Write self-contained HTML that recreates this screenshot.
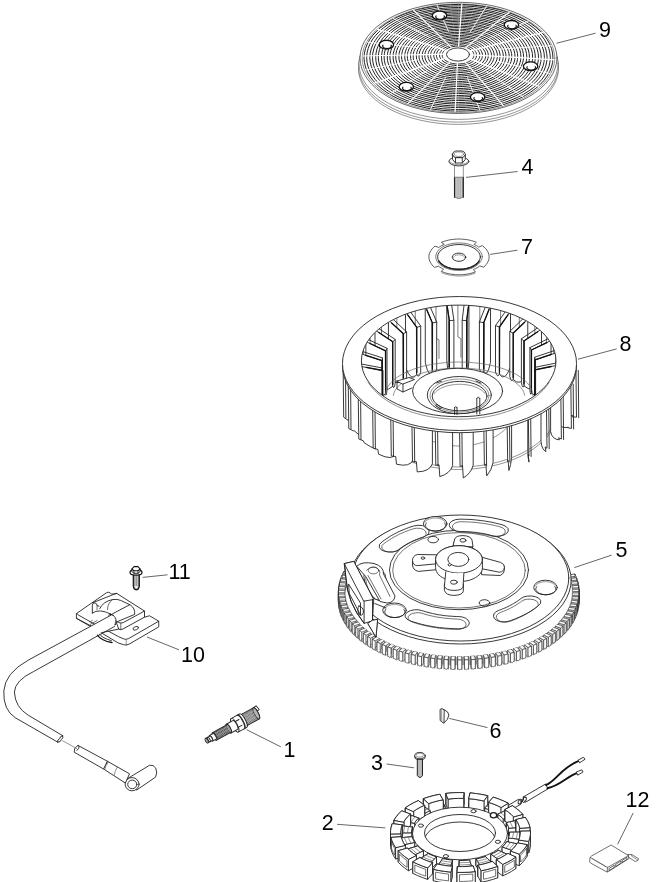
<!DOCTYPE html>
<html><head><meta charset="utf-8">
<style>
html,body{margin:0;padding:0;background:#fff;}
body{width:664px;height:882px;overflow:hidden;position:relative;font-family:"Liberation Sans",sans-serif;}
svg{position:absolute;left:0;top:0;}
.lbl{font-family:"Liberation Sans",sans-serif;font-size:21.5px;fill:#000;}
.labels{position:absolute;left:0;top:0;width:664px;height:882px;will-change:transform;}
.labels span{position:absolute;font-size:21.5px;line-height:24px;color:#000;white-space:nowrap;}
.ld{stroke:#555;stroke-width:0.9;fill:none;}
.k{stroke:#222;stroke-width:0.9;fill:none;stroke-linejoin:round;stroke-linecap:round;}
.kf{stroke:#222;stroke-width:0.9;fill:#fff;stroke-linejoin:round;stroke-linecap:round;}
.g{stroke:#666;stroke-width:0.7;fill:none;stroke-linejoin:round;stroke-linecap:round;}
.gf{stroke:#666;stroke-width:0.7;fill:#fff;stroke-linejoin:round;stroke-linecap:round;}
#p12 .k,#p12 .kf{stroke-width:0.7;stroke:#333;}
.t{stroke:#111;stroke-width:1.3;fill:none;stroke-linejoin:round;stroke-linecap:round;}
</style></head>
<body>
<svg width="664" height="882" viewBox="0 0 664 882">
<rect width="664" height="882" fill="#fff"/>
<g id="p9">
<ellipse class="gf" cx="458.5" cy="68.8" rx="100" ry="55.6"/>
<ellipse class="gf" cx="458.5" cy="66.5" rx="100" ry="55.6"/>
<ellipse class="gf" cx="458.5" cy="63.8" rx="99.5" ry="55.6"/>
<ellipse class="kf" cx="458.5" cy="57.9" rx="98.5" ry="55.6" style="stroke:#444;stroke-width:0.8"/>
<ellipse class="g" cx="458.5" cy="58.2" rx="96.3" ry="54.3"/>
<path d="M474 55L473.9 55.8L473.7 56.6L473.4 57.4L473 58.1L472.5 58.8L471.8 59.5L471.1 60.2L470.2 60.8L469.3 61.4L468.3 61.9L467.2 62.4L466 62.8L464.8 63.2L463.5 63.5L462.2 63.7L460.8 63.9L459.5 64L458.1 64L456.7 64L455.3 63.9L454 63.7L452.7 63.5L451.4 63.2L450.1 62.8L449 62.4L447.9 61.9L446.9 61.4L445.9 60.8L445.1 60.2L444.3 59.5L443.7 58.8L443.2 58.1L442.7 57.4L442.4 56.6L442.3 55.8L442.2 55L442.3 54.3L442.4 53.5L442.7 52.7L443.2 52L443.7 51.3L444.3 50.6L445.1 49.9L445.9 49.3L446.9 48.7L447.9 48.2L449 47.7L450.1 47.3L451.4 46.9L452.7 46.6L454 46.4L455.3 46.2L456.7 46.1L458.1 46.1L459.5 46.1L460.8 46.2L462.2 46.4L463.5 46.6L464.8 46.9L466 47.3L467.2 47.7L468.3 48.2L469.3 48.7L470.2 49.3L471.1 49.9L471.8 50.6L472.5 51.3L473 52L473.4 52.7L473.7 53.5L473.9 54.3L474 55ZM476.6 55.1L476.6 56.1L476.3 57L476 57.8L475.5 58.7L474.9 59.6L474.1 60.4L473.3 61.1L472.3 61.9L471.2 62.5L470 63.2L468.7 63.7L467.4 64.2L465.9 64.6L464.4 65L462.9 65.2L461.3 65.4L459.7 65.6L458.1 65.6L456.5 65.6L454.9 65.4L453.3 65.2L451.8 65L450.3 64.6L448.8 64.2L447.5 63.7L446.2 63.2L445 62.5L443.9 61.9L442.9 61.1L442 60.4L441.3 59.6L440.7 58.7L440.2 57.8L439.8 57L439.6 56.1L439.6 55.1L439.6 54.2L439.8 53.3L440.2 52.4L440.7 51.6L441.3 50.7L442 49.9L442.9 49.1L443.9 48.4L445 47.7L446.2 47.1L447.5 46.6L448.8 46.1L450.3 45.7L451.8 45.3L453.3 45L454.9 44.8L456.5 44.7L458.1 44.7L459.7 44.7L461.3 44.8L462.9 45L464.4 45.3L465.9 45.7L467.4 46.1L468.7 46.6L470 47.1L471.2 47.7L472.3 48.4L473.3 49.1L474.1 49.9L474.9 50.7L475.5 51.6L476 52.4L476.3 53.3L476.6 54.2L476.6 55.1ZM479.8 55.2L479.7 56.3L479.5 57.4L479.1 58.4L478.5 59.4L477.8 60.4L476.9 61.4L475.9 62.3L474.7 63.1L473.5 63.9L472.1 64.6L470.6 65.3L469 65.9L467.3 66.4L465.5 66.8L463.7 67.1L461.9 67.3L460 67.5L458.1 67.5L456.2 67.5L454.3 67.3L452.5 67.1L450.7 66.8L448.9 66.4L447.3 65.9L445.7 65.3L444.2 64.6L442.8 63.9L441.5 63.1L440.3 62.3L439.3 61.4L438.4 60.4L437.7 59.4L437.1 58.4L436.7 57.4L436.5 56.3L436.4 55.2L436.5 54.2L436.7 53.1L437.1 52.1L437.7 51.1L438.4 50.1L439.3 49.1L440.3 48.2L441.5 47.4L442.8 46.6L444.2 45.9L445.7 45.2L447.3 44.6L448.9 44.1L450.7 43.7L452.5 43.4L454.3 43.2L456.2 43L458.1 43L460 43L461.9 43.2L463.7 43.4L465.5 43.7L467.3 44.1L469 44.6L470.6 45.2L472.1 45.9L473.5 46.6L474.7 47.4L475.9 48.2L476.9 49.1L477.8 50.1L478.5 51.1L479.1 52.1L479.5 53.1L479.7 54.2L479.8 55.2ZM482.5 55.3L482.4 56.5L482.1 57.7L481.7 58.9L481 60L480.2 61.2L479.2 62.2L478.1 63.2L476.8 64.2L475.4 65.1L473.8 65.9L472.1 66.6L470.3 67.3L468.4 67.8L466.5 68.3L464.4 68.6L462.4 68.9L460.2 69L458.1 69.1L456 69L453.9 68.9L451.8 68.6L449.8 68.3L447.8 67.8L445.9 67.3L444.1 66.6L442.5 65.9L440.9 65.1L439.5 64.2L438.2 63.2L437 62.2L436 61.2L435.2 60L434.6 58.9L434.1 57.7L433.8 56.5L433.8 55.3L433.8 54.1L434.1 53L434.6 51.8L435.2 50.6L436 49.5L437 48.5L438.2 47.5L439.5 46.5L440.9 45.6L442.5 44.8L444.1 44.1L445.9 43.4L447.8 42.9L449.8 42.4L451.8 42.1L453.9 41.8L456 41.6L458.1 41.6L460.2 41.6L462.4 41.8L464.4 42.1L466.5 42.4L468.4 42.9L470.3 43.4L472.1 44.1L473.8 44.8L475.4 45.6L476.8 46.5L478.1 47.5L479.2 48.5L480.2 49.5L481 50.6L481.7 51.8L482.1 53L482.4 54.1L482.5 55.3ZM485.7 55.5L485.6 56.8L485.3 58.2L484.8 59.5L484 60.8L483.1 62L482 63.2L480.7 64.4L479.2 65.4L477.6 66.4L475.8 67.4L473.9 68.2L471.9 68.9L469.8 69.5L467.6 70.1L465.3 70.5L462.9 70.8L460.5 70.9L458.1 71L455.7 70.9L453.4 70.8L451 70.5L448.7 70.1L446.5 69.5L444.4 68.9L442.3 68.2L440.4 67.4L438.7 66.4L437 65.4L435.6 64.4L434.3 63.2L433.2 62L432.2 60.8L431.5 59.5L431 58.2L430.7 56.8L430.6 55.5L430.7 54.1L431 52.8L431.5 51.4L432.2 50.1L433.2 48.9L434.3 47.7L435.6 46.5L437 45.5L438.7 44.5L440.4 43.5L442.3 42.7L444.4 42L446.5 41.4L448.7 40.8L451 40.4L453.4 40.1L455.7 40L458.1 39.9L460.5 40L462.9 40.1L465.3 40.4L467.6 40.8L469.8 41.4L471.9 42L473.9 42.7L475.8 43.5L477.6 44.5L479.2 45.5L480.7 46.5L482 47.7L483.1 48.9L484 50.1L484.8 51.4L485.3 52.8L485.6 54.1L485.7 55.5ZM488.4 55.5L488.2 57L487.9 58.5L487.3 60L486.5 61.4L485.5 62.7L484.3 64.1L482.9 65.3L481.3 66.5L479.5 67.6L477.6 68.6L475.5 69.5L473.3 70.3L470.9 71L468.5 71.6L466 72L463.4 72.3L460.8 72.5L458.2 72.6L455.5 72.5L452.9 72.3L450.3 72L447.8 71.6L445.4 71L443 70.3L440.8 69.5L438.7 68.6L436.8 67.6L435 66.5L433.4 65.3L432 64.1L430.8 62.7L429.8 61.4L429 60L428.4 58.5L428.1 57L427.9 55.5L428.1 54.1L428.4 52.6L429 51.1L429.8 49.7L430.8 48.3L432 47L433.4 45.8L435 44.6L436.8 43.5L438.7 42.5L440.8 41.6L443 40.8L445.4 40.1L447.8 39.5L450.3 39.1L452.9 38.7L455.5 38.6L458.2 38.5L460.8 38.6L463.4 38.7L466 39.1L468.5 39.5L470.9 40.1L473.3 40.8L475.5 41.6L477.6 42.5L479.5 43.5L481.3 44.6L482.9 45.8L484.3 47L485.5 48.3L486.5 49.7L487.3 51.1L487.9 52.6L488.2 54.1L488.4 55.5ZM491.6 55.7L491.4 57.3L491.1 58.9L490.4 60.5L489.5 62.1L488.4 63.6L487.1 65.1L485.5 66.5L483.7 67.8L481.8 69L479.6 70.1L477.3 71.1L474.9 72L472.3 72.7L469.6 73.4L466.8 73.9L464 74.2L461.1 74.4L458.2 74.5L455.3 74.4L452.4 74.2L449.5 73.9L446.7 73.4L444.1 72.7L441.5 72L439 71.1L436.7 70.1L434.6 69L432.6 67.8L430.8 66.5L429.3 65.1L427.9 63.6L426.8 62.1L425.9 60.5L425.3 58.9L424.9 57.3L424.8 55.7L424.9 54L425.3 52.4L425.9 50.8L426.8 49.2L427.9 47.7L429.3 46.2L430.8 44.8L432.6 43.5L434.6 42.3L436.7 41.2L439 40.2L441.5 39.3L444.1 38.6L446.7 37.9L449.5 37.4L452.4 37.1L455.3 36.9L458.2 36.8L461.1 36.9L464 37.1L466.8 37.4L469.6 37.9L472.3 38.6L474.9 39.3L477.3 40.2L479.6 41.2L481.8 42.3L483.7 43.5L485.5 44.8L487.1 46.2L488.4 47.7L489.5 49.2L490.4 50.8L491.1 52.4L491.4 54L491.6 55.7ZM494.2 55.7L494.1 57.5L493.7 59.3L493 61L492.1 62.7L490.9 64.3L489.4 65.9L487.7 67.4L485.8 68.8L483.7 70.1L481.4 71.3L478.9 72.4L476.2 73.4L473.4 74.2L470.5 74.9L467.5 75.4L464.4 75.8L461.3 76L458.2 76.1L455 76L451.9 75.8L448.9 75.4L445.9 74.9L442.9 74.2L440.2 73.4L437.5 72.4L435 71.3L432.7 70.1L430.6 68.8L428.7 67.4L427 65.9L425.5 64.3L424.3 62.7L423.4 61L422.7 59.3L422.3 57.5L422.1 55.7L422.3 54L422.7 52.2L423.4 50.5L424.3 48.8L425.5 47.1L427 45.6L428.7 44.1L430.6 42.7L432.7 41.4L435 40.2L437.5 39.1L440.2 38.1L442.9 37.3L445.9 36.6L448.9 36.1L451.9 35.7L455 35.5L458.2 35.4L461.3 35.5L464.4 35.7L467.5 36.1L470.5 36.6L473.4 37.3L476.2 38.1L478.9 39.1L481.4 40.2L483.7 41.4L485.8 42.7L487.7 44.1L489.4 45.6L490.9 47.1L492.1 48.8L493 50.5L493.7 52.2L494.1 54L494.2 55.7ZM497.4 55.9L497.3 57.8L496.8 59.7L496.1 61.6L495.1 63.4L493.8 65.2L492.2 66.9L490.3 68.6L488.3 70.1L485.9 71.5L483.4 72.8L480.7 74L477.8 75L474.8 75.9L471.6 76.7L468.4 77.2L465 77.7L461.6 77.9L458.2 78L454.8 77.9L451.4 77.7L448 77.2L444.8 76.7L441.6 75.9L438.6 75L435.7 74L433 72.8L430.5 71.5L428.1 70.1L426.1 68.6L424.2 66.9L422.6 65.2L421.3 63.4L420.3 61.6L419.6 59.7L419.1 57.8L419 55.9L419.1 53.9L419.6 52L420.3 50.1L421.3 48.3L422.6 46.5L424.2 44.8L426.1 43.2L428.1 41.6L430.5 40.2L433 38.9L435.7 37.7L438.6 36.7L441.6 35.8L444.8 35L448 34.5L451.4 34L454.8 33.8L458.2 33.7L461.6 33.8L465 34L468.4 34.5L471.6 35L474.8 35.8L477.8 36.7L480.7 37.7L483.4 38.9L485.9 40.2L488.3 41.6L490.3 43.2L492.2 44.8L493.8 46.5L495.1 48.3L496.1 50.1L496.8 52L497.3 53.9L497.4 55.9ZM500.1 55.9L499.9 58L499.5 60.1L498.7 62.1L497.6 64L496.2 65.9L494.5 67.8L492.5 69.5L490.3 71.1L487.8 72.7L485.1 74.1L482.2 75.3L479.2 76.4L475.9 77.4L472.5 78.2L469.1 78.8L465.5 79.2L461.9 79.5L458.2 79.6L454.6 79.5L450.9 79.2L447.4 78.8L443.9 78.2L440.5 77.4L437.3 76.4L434.2 75.3L431.3 74.1L428.6 72.7L426.1 71.1L423.9 69.5L421.9 67.8L420.2 65.9L418.8 64L417.7 62.1L417 60.1L416.5 58L416.3 55.9L416.5 53.9L417 51.8L417.7 49.8L418.8 47.9L420.2 46L421.9 44.1L423.9 42.4L426.1 40.7L428.6 39.2L431.3 37.8L434.2 36.6L437.3 35.5L440.5 34.5L443.9 33.7L447.4 33.1L450.9 32.7L454.6 32.4L458.2 32.3L461.9 32.4L465.5 32.7L469.1 33.1L472.5 33.7L475.9 34.5L479.2 35.5L482.2 36.6L485.1 37.8L487.8 39.2L490.3 40.7L492.5 42.4L494.5 44.1L496.2 46L497.6 47.9L498.7 49.8L499.5 51.8L499.9 53.9L500.1 55.9ZM503.3 56.1L503.1 58.3L502.6 60.5L501.8 62.6L500.6 64.8L499.1 66.8L497.3 68.8L495.1 70.6L492.8 72.4L490.1 74L487.2 75.5L484.1 76.9L480.8 78.1L477.3 79.1L473.6 80L469.9 80.6L466.1 81.1L462.2 81.4L458.2 81.5L454.3 81.4L450.4 81.1L446.6 80.6L442.8 80L439.2 79.1L435.7 78.1L432.4 76.9L429.3 75.5L426.4 74L423.7 72.4L421.3 70.6L419.2 68.8L417.4 66.8L415.9 64.8L414.7 62.6L413.8 60.5L413.3 58.3L413.2 56.1L413.3 53.8L413.8 51.6L414.7 49.5L415.9 47.4L417.4 45.3L419.2 43.3L421.3 41.5L423.7 39.7L426.4 38.1L429.3 36.6L432.4 35.2L435.7 34L439.2 33L442.8 32.1L446.6 31.5L450.4 31L454.3 30.7L458.2 30.6L462.2 30.7L466.1 31L469.9 31.5L473.6 32.1L477.3 33L480.8 34L484.1 35.2L487.2 36.6L490.1 38.1L492.8 39.7L495.1 41.5L497.3 43.3L499.1 45.3L500.6 47.4L501.8 49.5L502.6 51.6L503.1 53.8L503.3 56.1ZM506 56.1L505.8 58.5L505.2 60.8L504.3 63.1L503.1 65.4L501.5 67.5L499.6 69.6L497.3 71.6L494.8 73.5L492 75.2L488.9 76.8L485.6 78.2L482.1 79.5L478.4 80.6L474.6 81.5L470.6 82.2L466.5 82.7L462.4 83L458.2 83.1L454.1 83L450 82.7L445.9 82.2L441.9 81.5L438.1 80.6L434.4 79.5L430.9 78.2L427.6 76.8L424.5 75.2L421.7 73.5L419.1 71.6L416.9 69.6L415 67.5L413.4 65.4L412.1 63.1L411.2 60.8L410.7 58.5L410.5 56.1L410.7 53.8L411.2 51.5L412.1 49.2L413.4 46.9L415 44.8L416.9 42.7L419.1 40.7L421.7 38.8L424.5 37.1L427.6 35.5L430.9 34.1L434.4 32.8L438.1 31.7L441.9 30.8L445.9 30.1L450 29.6L454.1 29.3L458.2 29.2L462.4 29.3L466.5 29.6L470.6 30.1L474.6 30.8L478.4 31.7L482.1 32.8L485.6 34.1L488.9 35.5L492 37.1L494.8 38.8L497.3 40.7L499.6 42.7L501.5 44.8L503.1 46.9L504.3 49.2L505.2 51.5L505.8 53.8L506 56.1ZM509.2 56.3L509 58.8L508.4 61.2L507.4 63.7L506.1 66.1L504.4 68.4L502.3 70.6L500 72.7L497.3 74.7L494.3 76.6L491 78.3L487.5 79.8L483.7 81.1L479.8 82.3L475.7 83.3L471.4 84L467.1 84.6L462.7 84.9L458.3 85L453.8 84.9L449.4 84.6L445.1 84L440.8 83.3L436.7 82.3L432.8 81.1L429.1 79.8L425.5 78.3L422.3 76.6L419.3 74.7L416.6 72.7L414.2 70.6L412.1 68.4L410.4 66.1L409.1 63.7L408.1 61.2L407.5 58.8L407.3 56.3L407.5 53.8L408.1 51.3L409.1 48.8L410.4 46.4L412.1 44.1L414.2 41.9L416.6 39.8L419.3 37.8L422.3 35.9L425.5 34.2L429.1 32.7L432.8 31.4L436.7 30.2L440.8 29.3L445.1 28.5L449.4 28L453.8 27.6L458.3 27.5L462.7 27.6L467.1 28L471.4 28.5L475.7 29.3L479.8 30.2L483.7 31.4L487.5 32.7L491 34.2L494.3 35.9L497.3 37.8L500 39.8L502.3 41.9L504.4 44.1L506.1 46.4L507.4 48.8L508.4 51.3L509 53.8L509.2 56.3ZM511.8 56.3L511.6 59L511 61.6L510 64.2L508.6 66.7L506.8 69.1L504.7 71.5L502.2 73.7L499.3 75.8L496.2 77.7L492.7 79.5L489 81.1L485.1 82.5L480.9 83.8L476.6 84.8L472.1 85.6L467.6 86.1L462.9 86.5L458.3 86.6L453.6 86.5L449 86.1L444.4 85.6L439.9 84.8L435.6 83.8L431.5 82.5L427.5 81.1L423.8 79.5L420.4 77.7L417.2 75.8L414.4 73.7L411.9 71.5L409.7 69.1L407.9 66.7L406.5 64.2L405.5 61.6L404.9 59L404.7 56.3L404.9 53.7L405.5 51.1L406.5 48.5L407.9 46L409.7 43.6L411.9 41.2L414.4 39L417.2 36.9L420.4 35L423.8 33.2L427.5 31.6L431.5 30.2L435.6 28.9L439.9 27.9L444.4 27.1L449 26.6L453.6 26.2L458.3 26.1L462.9 26.2L467.6 26.6L472.1 27.1L476.6 27.9L480.9 28.9L485.1 30.2L489 31.6L492.7 33.2L496.2 35L499.3 36.9L502.2 39L504.7 41.2L506.8 43.6L508.6 46L510 48.5L511 51.1L511.6 53.7L511.8 56.3ZM515 56.5L514.8 59.3L514.2 62L513.1 64.7L511.6 67.4L509.7 70L507.4 72.5L504.8 74.8L501.8 77L498.4 79.1L494.8 81L490.8 82.7L486.7 84.2L482.3 85.5L477.7 86.6L473 87.4L468.1 88L463.2 88.4L458.3 88.5L453.3 88.4L448.4 88L443.6 87.4L438.9 86.6L434.3 85.5L429.9 84.2L425.7 82.7L421.8 81L418.2 79.1L414.8 77L411.8 74.8L409.1 72.5L406.9 70L405 67.4L403.5 64.7L402.4 62L401.8 59.3L401.5 56.5L401.8 53.7L402.4 50.9L403.5 48.2L405 45.5L406.9 42.9L409.1 40.4L411.8 38.1L414.8 35.9L418.2 33.8L421.8 31.9L425.7 30.2L429.9 28.7L434.3 27.4L438.9 26.4L443.6 25.5L448.4 24.9L453.3 24.5L458.3 24.4L463.2 24.5L468.1 24.9L473 25.5L477.7 26.4L482.3 27.4L486.7 28.7L490.8 30.2L494.8 31.9L498.4 33.8L501.8 35.9L504.8 38.1L507.4 40.4L509.7 42.9L511.6 45.5L513.1 48.2L514.2 50.9L514.8 53.7L515 56.5ZM517.7 56.6L517.5 59.5L516.8 62.4L515.7 65.2L514.1 68L512.1 70.7L509.8 73.3L507 75.8L503.8 78.1L500.3 80.3L496.5 82.2L492.4 84L488 85.6L483.4 86.9L478.6 88.1L473.7 88.9L468.6 89.6L463.5 90L458.3 90.1L453.1 90L448 89.6L442.9 88.9L438 88.1L433.2 86.9L428.6 85.6L424.2 84L420.1 82.2L416.3 80.3L412.8 78.1L409.6 75.8L406.9 73.3L404.5 70.7L402.5 68L400.9 65.2L399.8 62.4L399.1 59.5L398.9 56.6L399.1 53.6L399.8 50.7L400.9 47.9L402.5 45.1L404.5 42.4L406.9 39.8L409.6 37.3L412.8 35L416.3 32.8L420.1 30.9L424.2 29.1L428.6 27.5L433.2 26.2L438 25L442.9 24.2L448 23.5L453.1 23.1L458.3 23L463.5 23.1L468.6 23.5L473.7 24.2L478.6 25L483.4 26.2L488 27.5L492.4 29.1L496.5 30.9L500.3 32.8L503.8 35L507 37.3L509.8 39.8L512.1 42.4L514.1 45.1L515.7 47.9L516.8 50.7L517.5 53.6L517.7 56.6ZM520.9 56.7L520.7 59.7L520 62.8L518.8 65.8L517.1 68.7L515 71.6L512.5 74.3L509.6 76.9L506.3 79.4L502.6 81.6L498.5 83.7L494.2 85.6L489.6 87.3L484.8 88.7L479.7 89.9L474.5 90.8L469.2 91.5L463.8 91.9L458.3 92L452.9 91.9L447.4 91.5L442.1 90.8L436.9 89.9L431.9 88.7L427 87.3L422.4 85.6L418.1 83.7L414.1 81.6L410.4 79.4L407 76.9L404.1 74.3L401.6 71.6L399.5 68.7L397.9 65.8L396.7 62.8L396 59.7L395.7 56.7L396 53.6L396.7 50.5L397.9 47.5L399.5 44.6L401.6 41.7L404.1 39L407 36.4L410.4 34L414.1 31.7L418.1 29.6L422.4 27.7L427 26.1L431.9 24.6L436.9 23.5L442.1 22.5L447.4 21.9L452.9 21.5L458.3 21.3L463.8 21.5L469.2 21.9L474.5 22.5L479.7 23.5L484.8 24.6L489.6 26.1L494.2 27.7L498.5 29.6L502.6 31.7L506.3 34L509.6 36.4L512.5 39L515 41.7L517.1 44.6L518.8 47.5L520 50.5L520.7 53.6L520.9 56.7ZM523.6 56.8L523.3 60L522.6 63.1L521.4 66.3L519.6 69.3L517.5 72.3L514.8 75.2L511.8 77.9L508.3 80.4L504.5 82.8L500.3 85L495.8 86.9L491 88.6L485.9 90.1L480.6 91.4L475.2 92.3L469.7 93L464 93.4L458.3 93.6L452.6 93.4L447 93L441.4 92.3L436 91.4L430.8 90.1L425.7 88.6L420.9 86.9L416.4 85L412.2 82.8L408.3 80.4L404.9 77.9L401.8 75.2L399.2 72.3L397 69.3L395.3 66.3L394.1 63.1L393.3 60L393.1 56.8L393.3 53.5L394.1 50.4L395.3 47.2L397 44.2L399.2 41.2L401.8 38.3L404.9 35.6L408.3 33.1L412.2 30.7L416.4 28.5L420.9 26.6L425.7 24.9L430.8 23.4L436 22.1L441.4 21.2L447 20.5L452.6 20.1L458.3 19.9L464 20.1L469.7 20.5L475.2 21.2L480.6 22.1L485.9 23.4L491 24.9L495.8 26.6L500.3 28.5L504.5 30.7L508.3 33.1L511.8 35.6L514.8 38.3L517.5 41.2L519.6 44.2L521.4 47.2L522.6 50.4L523.3 53.5L523.6 56.8ZM526.8 56.9L526.5 60.2L525.7 63.6L524.4 66.9L522.6 70.1L520.4 73.2L517.6 76.2L514.4 79L510.8 81.7L506.7 84.2L502.3 86.5L497.6 88.5L492.6 90.3L487.3 91.9L481.8 93.2L476.1 94.2L470.2 94.9L464.3 95.3L458.3 95.5L452.4 95.3L446.5 94.9L440.6 94.2L434.9 93.2L429.4 91.9L424.1 90.3L419.1 88.5L414.4 86.5L410 84.2L405.9 81.7L402.3 79L399.1 76.2L396.3 73.2L394 70.1L392.2 66.9L391 63.6L390.2 60.2L389.9 56.9L390.2 53.5L391 50.2L392.2 46.9L394 43.7L396.3 40.5L399.1 37.5L402.3 34.7L405.9 32L410 29.5L414.4 27.3L419.1 25.2L424.1 23.4L429.4 21.9L434.9 20.6L440.6 19.6L446.5 18.8L452.4 18.4L458.3 18.2L464.3 18.4L470.2 18.8L476.1 19.6L481.8 20.6L487.3 21.9L492.6 23.4L497.6 25.2L502.3 27.3L506.7 29.5L510.8 32L514.4 34.7L517.6 37.5L520.4 40.5L522.6 43.7L524.4 46.9L525.7 50.2L526.5 53.5L526.8 56.9ZM529.4 57L529.2 60.5L528.4 63.9L527 67.3L525.2 70.7L522.8 73.9L519.9 77L516.6 80L512.8 82.7L508.6 85.3L504.1 87.7L499.1 89.8L493.9 91.7L488.4 93.3L482.7 94.7L476.8 95.7L470.7 96.5L464.6 96.9L458.4 97.1L452.2 96.9L446 96.5L440 95.7L434 94.7L428.3 93.3L422.8 91.7L417.6 89.8L412.7 87.7L408.1 85.3L403.9 82.7L400.1 80L396.8 77L393.9 73.9L391.6 70.7L389.7 67.3L388.4 63.9L387.5 60.5L387.3 57L387.5 53.5L388.4 50L389.7 46.6L391.6 43.2L393.9 40L396.8 36.9L400.1 33.9L403.9 31.2L408.1 28.6L412.7 26.2L417.6 24.1L422.8 22.2L428.3 20.6L434 19.2L440 18.2L446 17.4L452.2 17L458.4 16.8L464.6 17L470.7 17.4L476.8 18.2L482.7 19.2L488.4 20.6L493.9 22.2L499.1 24.1L504.1 26.2L508.6 28.6L512.8 31.2L516.6 33.9L519.9 36.9L522.8 40L525.2 43.2L527 46.6L528.4 50L529.2 53.5L529.4 57ZM532.6 57.1L532.4 60.7L531.5 64.3L530.1 67.9L528.2 71.4L525.7 74.8L522.7 78L519.2 81.1L515.3 84L510.9 86.7L506.1 89.2L501 91.4L495.5 93.4L489.8 95.1L483.8 96.5L477.6 97.6L471.3 98.3L464.8 98.8L458.4 99L451.9 98.8L445.5 98.3L439.2 97.6L433 96.5L427 95.1L421.2 93.4L415.8 91.4L410.6 89.2L405.9 86.7L401.5 84L397.5 81.1L394.1 78L391.1 74.8L388.6 71.4L386.6 67.9L385.2 64.3L384.4 60.7L384.1 57.1L384.4 53.4L385.2 49.8L386.6 46.2L388.6 42.7L391.1 39.3L394.1 36.1L397.5 33L401.5 30.1L405.9 27.4L410.6 24.9L415.8 22.7L421.2 20.8L427 19.1L433 17.7L439.2 16.6L445.5 15.8L451.9 15.3L458.4 15.1L464.8 15.3L471.3 15.8L477.6 16.6L483.8 17.7L489.8 19.1L495.5 20.8L501 22.7L506.1 24.9L510.9 27.4L515.3 30.1L519.2 33L522.7 36.1L525.7 39.3L528.2 42.7L530.1 46.2L531.5 49.8L532.4 53.4L532.6 57.1ZM535.3 57.2L535 60.9L534.2 64.7L532.7 68.4L530.7 72L528.1 75.5L525 78.9L521.4 82.1L517.3 85.1L512.8 87.9L507.8 90.4L502.5 92.7L496.9 94.8L490.9 96.5L484.7 98L478.3 99.1L471.7 99.9L465.1 100.4L458.4 100.6L451.7 100.4L445 99.9L438.5 99.1L432.1 98L425.9 96.5L419.9 94.8L414.3 92.7L408.9 90.4L404 87.9L399.5 85.1L395.4 82.1L391.8 78.9L388.7 75.5L386.1 72L384.1 68.4L382.6 64.7L381.8 60.9L381.5 57.2L381.8 53.4L382.6 49.6L384.1 45.9L386.1 42.3L388.7 38.8L391.8 35.4L395.4 32.2L399.5 29.2L404 26.5L408.9 23.9L414.3 21.6L419.9 19.5L425.9 17.8L432.1 16.4L438.5 15.2L445 14.4L451.7 13.9L458.4 13.7L465.1 13.9L471.7 14.4L478.3 15.2L484.7 16.4L490.9 17.8L496.9 19.5L502.5 21.6L507.8 23.9L512.8 26.5L517.3 29.2L521.4 32.2L525 35.4L528.1 38.8L530.7 42.3L532.7 45.9L534.2 49.6L535 53.4L535.3 57.2ZM538.5 57.3L538.2 61.2L537.3 65.1L535.8 69L533.7 72.7L531 76.4L527.8 79.9L524 83.2L519.8 86.3L515.1 89.2L509.9 91.9L504.4 94.3L498.5 96.4L492.3 98.2L485.8 99.8L479.1 100.9L472.3 101.8L465.4 102.3L458.4 102.5L451.4 102.3L444.5 101.8L437.7 100.9L431 99.8L424.6 98.2L418.4 96.4L412.5 94.3L406.9 91.9L401.8 89.2L397 86.3L392.8 83.2L389 79.9L385.8 76.4L383.1 72.7L381 69L379.5 65.1L378.6 61.2L378.3 57.3L378.6 53.3L379.5 49.4L381 45.6L383.1 41.8L385.8 38.2L389 34.7L392.8 31.3L397 28.2L401.8 25.3L406.9 22.6L412.5 20.2L418.4 18.1L424.6 16.3L431 14.8L437.7 13.6L444.5 12.7L451.4 12.2L458.4 12L465.4 12.2L472.3 12.7L479.1 13.6L485.8 14.8L492.3 16.3L498.5 18.1L504.4 20.2L509.9 22.6L515.1 25.3L519.8 28.2L524 31.3L527.8 34.7L531 38.2L533.7 41.8L535.8 45.6L537.3 49.4L538.2 53.3L538.5 57.3ZM541.2 57.4L540.9 61.4L539.9 65.5L538.4 69.4L536.2 73.3L533.4 77.1L530.1 80.7L526.2 84.2L521.8 87.4L516.9 90.4L511.6 93.1L505.9 95.6L499.8 97.8L493.4 99.7L486.7 101.3L479.8 102.5L472.8 103.4L465.6 103.9L458.4 104.1L451.2 103.9L444 103.4L437 102.5L430.1 101.3L423.4 99.7L417 97.8L410.9 95.6L405.2 93.1L399.9 90.4L395 87.4L390.6 84.2L386.7 80.7L383.4 77.1L380.6 73.3L378.5 69.4L376.9 65.5L376 61.4L375.7 57.4L376 53.3L376.9 49.2L378.5 45.3L380.6 41.4L383.4 37.6L386.7 34L390.6 30.6L395 27.3L399.9 24.3L405.2 21.6L410.9 19.1L417 16.9L423.4 15L430.1 13.5L437 12.2L444 11.3L451.2 10.8L458.4 10.6L465.6 10.8L472.8 11.3L479.8 12.2L486.7 13.5L493.4 15L499.8 16.9L505.9 19.1L511.6 21.6L516.9 24.3L521.8 27.3L526.2 30.6L530.1 34L533.4 37.6L536.2 41.4L538.4 45.3L539.9 49.2L540.9 53.3L541.2 57.4ZM544.4 57.5L544.1 61.7L543.1 65.9L541.5 70L539.2 74.1L536.3 78L532.9 81.7L528.8 85.3L524.3 88.7L519.2 91.8L513.7 94.6L507.7 97.2L501.4 99.5L494.8 101.4L487.8 103.1L480.7 104.3L473.4 105.2L465.9 105.8L458.4 106L450.9 105.8L443.5 105.2L436.2 104.3L429 103.1L422.1 101.4L415.5 99.5L409.1 97.2L403.2 94.6L397.7 91.8L392.6 88.7L388 85.3L384 81.7L380.5 78L377.7 74.1L375.4 70L373.8 65.9L372.8 61.7L372.5 57.5L372.8 53.2L373.8 49L375.4 44.9L377.7 40.9L380.5 37L384 33.2L388 29.6L392.6 26.3L397.7 23.2L403.2 20.3L409.1 17.7L415.5 15.5L422.1 13.5L429 11.9L436.2 10.6L443.5 9.7L450.9 9.1L458.4 9L465.9 9.1L473.4 9.7L480.7 10.6L487.8 11.9L494.8 13.5L501.4 15.5L507.7 17.7L513.7 20.3L519.2 23.2L524.3 26.3L528.8 29.6L532.9 33.2L536.3 37L539.2 40.9L541.5 44.9L543.1 49L544.1 53.2L544.4 57.5ZM547.1 57.6L546.7 61.9L545.7 66.2L544 70.5L541.7 74.7L538.8 78.7L535.2 82.6L531 86.2L526.3 89.7L521.1 92.9L515.4 95.9L509.3 98.5L502.8 100.9L495.9 102.9L488.8 104.6L481.4 105.9L473.8 106.8L466.2 107.4L458.4 107.6L450.7 107.4L443.1 106.8L435.5 105.9L428.1 104.6L421 102.9L414.1 100.9L407.6 98.5L401.5 95.9L395.8 92.9L390.6 89.7L385.9 86.2L381.7 82.6L378.1 78.7L375.2 74.7L372.9 70.5L371.2 66.2L370.2 61.9L369.8 57.6L370.2 53.2L371.2 48.9L372.9 44.6L375.2 40.5L378.1 36.4L381.7 32.6L385.9 28.9L390.6 25.4L395.8 22.2L401.5 19.2L407.6 16.6L414.1 14.2L421 12.2L428.1 10.6L435.5 9.2L443.1 8.3L450.7 7.7L458.4 7.5L466.2 7.7L473.8 8.3L481.4 9.2L488.8 10.6L495.9 12.2L502.8 14.2L509.3 16.6L515.4 19.2L521.1 22.2L526.3 25.4L531 28.9L535.2 32.6L538.8 36.4L541.7 40.5L544 44.6L545.7 48.9L546.7 53.2L547.1 57.6ZM550.3 57.7L549.9 62.2L548.9 66.7L547.1 71.1L544.7 75.4L541.7 79.6L538 83.6L533.7 87.4L528.8 91L523.4 94.3L517.5 97.4L511.1 100.1L504.4 102.5L497.3 104.6L489.9 106.4L482.2 107.7L474.4 108.7L466.5 109.3L458.5 109.5L450.5 109.3L442.5 108.7L434.7 107.7L427.1 106.4L419.7 104.6L412.6 102.5L405.8 100.1L399.5 97.4L393.6 94.3L388.2 91L383.3 87.4L379 83.6L375.3 79.6L372.2 75.4L369.8 71.1L368.1 66.7L367 62.2L366.7 57.7L367 53.2L368.1 48.7L369.8 44.3L372.2 39.9L375.3 35.8L379 31.8L383.3 28L388.2 24.4L393.6 21L399.5 18L405.8 15.2L412.6 12.8L419.7 10.7L427.1 9L434.7 7.6L442.5 6.6L450.5 6.1L458.5 5.9L466.5 6.1L474.4 6.6L482.2 7.6L489.9 9L497.3 10.7L504.4 12.8L511.1 15.2L517.5 18L523.4 21L528.8 24.4L533.7 28L538 31.8L541.7 35.8L544.7 39.9L547.1 44.3L548.9 48.7L549.9 53.2L550.3 57.7ZM552.9 57.8L552.6 62.4L551.5 67L549.7 71.6L547.2 76L544.1 80.3L540.3 84.4L535.8 88.3L530.8 92L525.3 95.5L519.2 98.6L512.7 101.4L505.7 103.9L498.4 106.1L490.8 107.9L482.9 109.3L474.9 110.3L466.7 110.9L458.5 111.1L450.2 110.9L442.1 110.3L434 109.3L426.2 107.9L418.6 106.1L411.3 103.9L404.3 101.4L397.8 98.6L391.7 95.5L386.1 92L381.1 88.3L376.7 84.4L372.9 80.3L369.7 76L367.3 71.6L365.5 67L364.4 62.4L364 57.8L364.4 53.1L365.5 48.5L367.3 44L369.7 39.5L372.9 35.2L376.7 31.1L381.1 27.2L386.1 23.5L391.7 20.1L397.8 16.9L404.3 14.1L411.3 11.6L418.6 9.4L426.2 7.7L434 6.3L442.1 5.3L450.2 4.7L458.5 4.4L466.7 4.7L474.9 5.3L482.9 6.3L490.8 7.7L498.4 9.4L505.7 11.6L512.7 14.1L519.2 16.9L525.3 20.1L530.8 23.5L535.8 27.2L540.3 31.1L544.1 35.2L547.2 39.5L549.7 44L551.5 48.5L552.6 53.1L552.9 57.8Z" fill="none" stroke="#222" stroke-width="1.0"/>
<path d="M471.8 54.8L554.5 59.8M469.7 58.6L539.9 86.6M464.5 61.4L503.6 105.8M457.5 62.3L455.1 112.1M450.7 61.1L407.6 103.9M445.8 58.2L373.7 83.4M444.2 54.2L362.5 56M446.3 50.4L377.1 29.2M451.5 47.6L413.4 10M458.5 46.7L461.9 3.7M465.3 47.9L509.4 11.9M470.2 50.8L543.3 32.4" fill="none" stroke="#fff" stroke-width="1.25"/>
<path d="M497.6 61.3L550.3 73.7M486.2 71.6L524 97.5M467.3 77.3L480.1 110.7M445.9 76.8L430.4 109.7M427.7 70.4L388.3 94.9M417.7 59.8L364.9 70.1M418.4 47.7L366.7 42.1M429.8 37.4L393 18.3M448.7 31.7L436.9 5.1M470.1 32.2L486.6 6.1M488.3 38.6L528.7 20.9M498.3 49.2L552.1 45.7" fill="none" stroke="#fff" stroke-width="0.9"/>
<ellipse class="kf" cx="458" cy="54.5" rx="11.5" ry="6.6"/>
<ellipse class="kf" cx="439.5" cy="15.5" rx="7.2" ry="4.4" style="stroke:#111;stroke-width:1.3"/>
<path class="k" d="M444.1 15.9L444.3 16.2L444.4 16.5L444.4 16.8L444.4 17.1L444.3 17.4L444.1 17.7L443.9 18L443.6 18.2L443.3 18.5L442.9 18.7L442.5 18.9L442.1 19L441.6 19.1L441.1 19.2L440.6 19.3L440.1 19.3L439.6 19.3L439.1 19.2L438.6 19.1L438.1 19L437.7 18.9L437.3 18.7L436.9 18.5L436.6 18.2L436.3 18L436.1 17.7L435.9 17.4L435.8 17.1L435.8 16.8L435.8 16.5L435.9 16.2L436.1 15.9" style="stroke:#111;stroke-width:1.1"/>
<ellipse class="kf" cx="511.4" cy="24.9" rx="7.2" ry="4.4" style="stroke:#111;stroke-width:1.3"/>
<path class="k" d="M516 25.3L516.2 25.6L516.3 25.9L516.3 26.2L516.3 26.5L516.2 26.8L516 27.1L515.8 27.4L515.5 27.6L515.2 27.9L514.8 28.1L514.4 28.3L514 28.4L513.5 28.5L513 28.6L512.5 28.7L512 28.7L511.5 28.7L511 28.6L510.5 28.5L510 28.4L509.6 28.3L509.2 28.1L508.8 27.9L508.5 27.6L508.2 27.4L508 27.1L507.8 26.8L507.7 26.5L507.7 26.2L507.7 25.9L507.8 25.6L508 25.3" style="stroke:#111;stroke-width:1.1"/>
<ellipse class="kf" cx="386.4" cy="44.7" rx="7.2" ry="4.4" style="stroke:#111;stroke-width:1.3"/>
<path class="k" d="M391 45.1L391.2 45.4L391.3 45.7L391.3 46L391.3 46.3L391.2 46.6L391 46.9L390.8 47.2L390.5 47.4L390.2 47.7L389.8 47.9L389.4 48.1L389 48.2L388.5 48.3L388 48.4L387.5 48.5L387 48.5L386.5 48.5L386 48.4L385.5 48.3L385 48.2L384.6 48.1L384.2 47.9L383.8 47.7L383.5 47.4L383.2 47.2L383 46.9L382.8 46.6L382.7 46.3L382.7 46L382.7 45.7L382.8 45.4L383 45.1" style="stroke:#111;stroke-width:1.1"/>
<ellipse class="kf" cx="530.6" cy="66.3" rx="7.2" ry="4.4" style="stroke:#111;stroke-width:1.3"/>
<path class="k" d="M535.2 66.7L535.4 67L535.5 67.3L535.5 67.6L535.5 67.9L535.4 68.2L535.2 68.5L535 68.8L534.7 69L534.4 69.3L534 69.5L533.6 69.7L533.2 69.8L532.7 69.9L532.2 70L531.7 70.1L531.2 70.1L530.7 70.1L530.2 70L529.7 69.9L529.2 69.8L528.8 69.7L528.4 69.5L528 69.3L527.7 69L527.4 68.8L527.2 68.5L527 68.2L526.9 67.9L526.9 67.6L526.9 67.3L527 67L527.2 66.7" style="stroke:#111;stroke-width:1.1"/>
<ellipse class="kf" cx="406.3" cy="86.8" rx="7.2" ry="4.4" style="stroke:#111;stroke-width:1.3"/>
<path class="k" d="M410.9 87.2L411.1 87.5L411.2 87.8L411.2 88.1L411.2 88.4L411.1 88.7L410.9 89L410.7 89.3L410.4 89.5L410.1 89.8L409.7 90L409.3 90.2L408.9 90.3L408.4 90.4L407.9 90.5L407.4 90.6L406.9 90.6L406.4 90.6L405.9 90.5L405.4 90.4L404.9 90.3L404.5 90.2L404.1 90L403.7 89.8L403.4 89.5L403.1 89.3L402.9 89L402.7 88.7L402.6 88.4L402.6 88.1L402.6 87.8L402.7 87.5L402.9 87.2" style="stroke:#111;stroke-width:1.1"/>
<ellipse class="kf" cx="477.6" cy="97.1" rx="7.2" ry="4.4" style="stroke:#111;stroke-width:1.3"/>
<path class="k" d="M482.2 97.5L482.4 97.8L482.5 98.1L482.5 98.4L482.5 98.7L482.4 99L482.2 99.3L482 99.6L481.7 99.8L481.4 100.1L481 100.3L480.6 100.5L480.2 100.6L479.7 100.7L479.2 100.8L478.7 100.9L478.2 100.9L477.7 100.9L477.2 100.8L476.7 100.7L476.2 100.6L475.8 100.5L475.4 100.3L475 100.1L474.7 99.8L474.4 99.6L474.2 99.3L474 99L473.9 98.7L473.9 98.4L473.9 98.1L474 97.8L474.2 97.5" style="stroke:#111;stroke-width:1.1"/>
</g>
<g id="p4">
<rect x="454.5" y="165" width="8.8" height="32" fill="#fff" stroke="none"/>
<path d="M454.5 177.2 L463.3 177.2 L463.3 197.2 Q458.9 200 454.5 197.2Z" fill="#a4a4a4" stroke="none"/>
<path d="M456.2 178L456.2 198M458 178L458 198M459.8 178L459.8 198M461.6 178L461.6 198" stroke="#e2e2e2" stroke-width="0.7" fill="none"/>
<path class="g" d="M454.5 166L454.5 197.2Q458.9 200 463.3 197.2L463.3 166"/>
<path class="k" d="M454.5 177.2L454.5 197.2M463.3 177.2L463.3 197.2" style="stroke-width:1.1"/>
<path class="g" d="M454.5 177.2L463.3 177.2"/>
<ellipse class="kf" cx="458.9" cy="161.4" rx="10" ry="4.5"/>
<path class="g" d="M468.2 161.5L467.9 161.8L467.6 162.1L467.3 162.4L466.9 162.7L466.4 163L465.9 163.3L465.3 163.5L464.7 163.7L464.1 163.9L463.4 164.1L462.7 164.3L462 164.4L461.2 164.5L460.5 164.5L459.7 164.6L458.9 164.6L458.1 164.6L457.3 164.5L456.6 164.5L455.8 164.4L455.1 164.3L454.4 164.1L453.7 163.9L453.1 163.7L452.5 163.5L451.9 163.3L451.4 163L450.9 162.7L450.5 162.4L450.2 162.1L449.9 161.8L449.6 161.5"/>
<path class="kf" d="M452.4 154.3L452.6 159.6L455.5 163L462.3 163L465.2 159.6L465.4 154.3L462.3 157.6L455.5 157.6Z"/>
<path class="k" d="M455.5 157.6L455.5 163M462.3 157.6L462.3 163"/>
<path class="kf" d="M452.4 154.3 Q453 151.5 455.8 151 L462 151 Q464.8 151.5 465.4 154.3 Q464.5 157.2 462.3 157.6 L455.5 157.6 Q453.3 157.2 452.4 154.3Z"/>
<ellipse class="g" cx="458.9" cy="154.2" rx="4.6" ry="2.3"/>
</g>
<g id="p7">
<path class="kf" d="M441.7 242.2L443.9 241.4L446.3 240.7L448.7 240.1L451.2 239.6L453.8 239.3L456.4 239.1L459 239L461.6 239.1L464.2 239.3L466.8 239.6L469.3 240.1L471.7 240.7L474.1 241.4L476.3 242.2L474.1 244.5L475 244.9L475.8 245.3L476.6 245.7L477.3 246.1L478 246.6L478.7 247.1L482.4 245.6L484 247L485.5 248.4L486.7 249.9L487.6 251.4L488.4 253L488.9 254.6L489.1 256.3L489.1 257.9L488.8 259.6L488.2 261.2L487.4 262.8L486.4 264.3L485.1 265.8L483.7 267.2L479.8 265.9L478.9 266.6L477.9 267.3L476.9 267.9L475.8 268.5L474.6 269.1L473.4 269.6L475.4 271.9L473.2 272.7L470.8 273.4L468.4 273.9L465.9 274.3L463.4 274.6L460.8 274.8L458.2 274.8L455.6 274.7L453.1 274.4L450.6 274.1L448.1 273.6L445.7 273L443.5 272.2L441.3 271.4L443.5 269.1L442.6 268.7L441.7 268.2L440.8 267.7L440 267.2L439.2 266.7L438.4 266.1L434.6 267.4L433.1 266.1L431.8 264.6L430.8 263.1L429.9 261.6L429.4 260L429 258.4L428.9 256.7L429 255.1L429.4 253.5L430.1 251.9L431 250.4L432.1 248.9L433.4 247.5L435 246.1L438.7 247.5L439.5 246.9L440.3 246.4L441.1 245.9L442 245.4L442.9 245L443.9 244.5Z" style="stroke:#333;stroke-width:0.8"/>
<path class="g" d="M475 273.3L474 273.6L473 273.9L472.1 274.2L471.1 274.5L470 274.8L469 275L468 275.2L466.9 275.4L465.9 275.5L464.8 275.7L463.7 275.8L462.6 275.9L461.5 275.9L460.4 276L459.3 276L458.2 276L457.1 276L456 275.9L454.9 275.8L453.8 275.7L452.8 275.6L451.7 275.5L450.6 275.3L449.6 275.1L448.5 274.9L447.5 274.6L446.5 274.4L445.5 274.1L444.5 273.8L443.6 273.5L442.6 273.1L441.7 272.8"/>
<ellipse class="g" cx="459" cy="256.7" rx="23.3" ry="13.8" style="stroke:#444"/>
<ellipse class="k" cx="459" cy="256.9" rx="21.4" ry="12.4"/>
<path class="k" d="M479.1 261.1L478.5 262L477.8 262.9L476.9 263.7L476 264.4L474.9 265.2L473.8 265.9L472.6 266.5L471.3 267.1L469.9 267.6L468.5 268L467 268.4L465.4 268.7L463.9 269L462.3 269.2L460.6 269.3L459 269.3L457.4 269.3L455.7 269.2L454.1 269L452.6 268.7L451 268.4L449.5 268L448.1 267.6L446.7 267.1L445.4 266.5L444.2 265.9L443.1 265.2L442 264.4L441.1 263.7L440.2 262.9L439.5 262L438.9 261.1" style="stroke-width:1.5"/>
<ellipse class="k" cx="459" cy="257.2" rx="6.8" ry="4.1"/>
<path class="g" d="M453.4 258L453.4 257.7L453.5 257.4L453.6 257.1L453.8 256.8L454.1 256.5L454.3 256.2L454.7 256L455 255.7L455.4 255.5L455.9 255.3L456.4 255.2L456.9 255L457.4 254.9L457.9 254.9L458.5 254.8L459 254.8L459.5 254.8L460.1 254.9L460.6 254.9L461.1 255L461.6 255.2L462.1 255.3L462.6 255.5L463 255.7L463.3 256L463.7 256.2L463.9 256.5L464.2 256.8L464.4 257.1L464.5 257.4L464.6 257.7L464.6 258"/>
</g>
<g id="p8">
<defs><clipPath id="c8in"><ellipse cx="458.7" cy="360.9" rx="97.3" ry="55.8"/></clipPath><clipPath id="c8out"><path clip-rule="evenodd" d="M300 280H620V500H300Z M576.5 365.7L575.9 372.7L573.9 379.6L570.8 386.4L566.4 393L560.8 399.2L554.2 405.1L546.4 410.5L537.8 415.5L528.3 419.9L518 423.7L507.1 426.9L495.7 429.4L483.8 431.2L471.7 432.3L459.5 432.7L447.3 432.3L435.2 431.2L423.3 429.4L411.9 426.9L401 423.7L390.7 419.9L381.2 415.5L372.6 410.5L364.8 405.1L358.2 399.2L352.6 393L348.2 386.4L345.1 379.6L343.1 372.7L342.5 365.7L343.1 358.7L345.1 351.8L348.2 345L352.6 338.4L358.2 332.2L364.8 326.3L372.6 320.9L381.2 315.9L390.7 311.5L401 307.7L411.9 304.5L423.3 302L435.2 300.2L447.3 299.1L459.5 298.7L471.7 299.1L483.8 300.2L495.7 302L507.1 304.5L518 307.7L528.3 311.5L537.8 315.9L546.4 320.9L554.2 326.3L560.8 332.2L566.4 338.4L570.8 345L573.9 351.8L575.9 358.7L576.5 365.7Z"/></clipPath></defs>
<g clip-path="url(#c8in)"><rect x="340" y="290" width="250" height="150" fill="#fff"/><path class="g" d="M479.8 306.4 L479.8 338.3 L482.8 339.8 L482.8 358.6" style="stroke:#444"/><path class="k" d="M464.3 303.1 L462.2 320.3"/><path class="kf" d="M468.9 303.4 L466.7 320.6 L466.7 369 Q467.8 377 468.9 360.4 Z"/><path class="kf" d="M466.7 320.6 L462.2 320.3 L462.2 367.7 Q464.4 373.9 466.7 369 Z"/><path class="t" d="M468.4 306.8 L466.7 320.6 L466.7 367"/><path class="g" d="M457.9 305.1 L457.9 337 L460.9 338.5 L460.9 357.2" style="stroke:#444"/><path class="k" d="M451.4 303.2 L453.9 320.3"/><path class="kf" d="M446.8 303.5 L449.3 320.6 L449.3 369.1 Q448.1 377.1 446.8 360.5 Z"/><path class="kf" d="M449.3 320.6 L453.9 320.3 L453.9 367.8 Q451.6 373.9 449.3 369.1 Z"/><path class="t" d="M447.3 306.9 L449.3 320.6 L449.3 367.1"/><path class="g" d="M500.6 310.5 L500.6 342.2 L503.6 343.7 L503.6 362.3" style="stroke:#444"/><path class="k" d="M486 305.3 L479.4 321.9"/><path class="kf" d="M490.4 306.1 L483.7 322.7 L483.7 370.8 Q487.1 378.8 490.4 362.7 Z"/><path class="kf" d="M483.7 322.7 L479.4 321.9 L479.4 368.9 Q481.6 375.4 483.7 370.8 Z"/><path class="t" d="M489 309.5 L483.7 322.7 L483.7 368.8"/><path class="g" d="M436 306.6 L436 338.3 L439 339.8 L439 358.4" style="stroke:#444"/><path class="k" d="M429.7 305.6 L436.7 322.1"/><path class="kf" d="M425.4 306.5 L432.4 323 L432.4 371 Q428.9 379 425.4 363 Z"/><path class="kf" d="M432.4 323 L436.7 322.1 L436.7 369.1 Q434.6 375.5 432.4 371 Z"/><path class="t" d="M426.8 309.8 L432.4 323 L432.4 369"/><path class="g" d="M519.3 317.2 L519.3 348.5 L522.3 350 L522.3 368.3" style="stroke:#444"/><path class="k" d="M506.4 310.2 L495.5 325.6"/><path class="kf" d="M510.3 311.6 L499.4 327 L499.4 374.3 Q504.8 382.3 510.3 367.4 Z"/><path class="kf" d="M499.4 327 L495.5 325.6 L495.5 371.9 Q497.5 378.6 499.4 374.3 Z"/><path class="t" d="M508.1 314.7 L499.4 327 L499.4 372.3"/><path class="g" d="M415.3 311 L415.3 342.2 L418.3 343.7 L418.3 362" style="stroke:#444"/><path class="k" d="M409.6 310.7 L420.7 326"/><path class="kf" d="M405.7 312.1 L416.8 327.4 L416.8 374.6 Q411.3 382.6 405.7 367.8 Z"/><path class="kf" d="M416.8 327.4 L420.7 326 L420.7 372.2 Q418.8 378.9 416.8 374.6 Z"/><path class="t" d="M407.9 315.2 L416.8 327.4 L416.8 372.6"/><path class="g" d="M534.8 326.2 L534.8 356.8 L537.8 358.3 L537.8 376.3" style="stroke:#444"/><path class="k" d="M524.2 317.6 L509.8 331.4"/><path class="kf" d="M527.5 319.4 L513.1 333.2 L513.1 379.4 Q520.3 387.4 527.5 374.1 Z"/><path class="kf" d="M513.1 333.2 L509.8 331.4 L509.8 376.5 Q511.4 383.5 513.1 379.4 Z"/><path class="t" d="M524.6 322.2 L513.1 333.2 L513.1 377.4"/><path class="g" d="M396.8 317.8 L396.8 348.4 L399.8 349.9 L399.8 367.8" style="stroke:#444"/><path class="k" d="M391.9 318.2 L406.6 331.9"/><path class="kf" d="M388.7 320.1 L403.4 333.8 L403.4 379.8 Q396.1 387.8 388.7 374.7 Z"/><path class="kf" d="M403.4 333.8 L406.6 331.9 L406.6 376.9 Q405 383.9 403.4 379.8 Z"/><path class="t" d="M391.6 322.9 L403.4 333.8 L403.4 377.8"/><path class="g" d="M546.5 336.9 L546.5 366.7 L549.5 368.2 L549.5 385.7" style="stroke:#444"/><path class="k" d="M538.8 327.1 L521.4 338.8"/><path class="kf" d="M541.2 329.3 L523.9 341 L523.9 385.8 Q532.6 393.8 541.2 382.6 Z"/><path class="kf" d="M523.9 341 L521.4 338.8 L521.4 382.5 Q522.7 389.7 523.9 385.8 Z"/><path class="t" d="M537.7 331.7 L523.9 341 L523.9 383.8"/><path class="g" d="M381.5 326.9 L381.5 356.7 L384.5 358.2 L384.5 375.6" style="stroke:#444"/><path class="k" d="M377.7 327.9 L395.2 339.4"/><path class="kf" d="M375.3 330.2 L392.8 341.7 L392.8 386.3 Q384.1 394.3 375.3 383.3 Z"/><path class="kf" d="M392.8 341.7 L395.2 339.4 L395.2 383.1 Q394 390.2 392.8 386.3 Z"/><path class="t" d="M378.8 332.5 L392.8 341.7 L392.8 384.3"/><path class="g" d="M553.7 348.8 L553.7 377.8 L556.7 379.3 L556.7 396.2" style="stroke:#444"/><path class="k" d="M549.2 338.2 L529.9 347.6"/><path class="kf" d="M550.7 340.7 L531.4 350 L531.4 393.2 Q541 401.2 550.7 392.3 Z"/><path class="kf" d="M531.4 350 L529.9 347.6 L529.9 389.7 Q530.6 396.9 531.4 393.2 Z"/><path class="t" d="M546.8 342.6 L531.4 350 L531.4 391.2"/><path class="g" d="M370.2 337.8 L370.2 366.6 L373.2 368.1 L373.2 385" style="stroke:#444"/><path class="k" d="M367.6 339.2 L387 348.3"/><path class="kf" d="M366.2 341.7 L385.6 350.8 L385.6 393.8 Q375.9 401.8 366.2 393.1 Z"/><path class="kf" d="M385.6 350.8 L387 348.3 L387 390.2 Q386.3 397.5 385.6 393.8 Z"/><path class="t" d="M370 343.5 L385.6 350.8 L385.6 391.8"/><path class="g" d="M556 361.4 L556 389.3 L559 390.8 L559 407.1" style="stroke:#444"/><path class="k" d="M555 350.4 L534.7 357.2"/><path class="kf" d="M555.5 353.1 L535.1 359.8 L535.1 401.1 Q545.3 409.1 555.5 402.9 Z"/><path class="kf" d="M535.1 359.8 L534.7 357.2 L534.7 397.5 Q534.9 404.8 535.1 401.1 Z"/><path class="t" d="M551.4 354.4 L535.1 359.8 L535.1 399.1"/><path class="g" d="M363.4 349.8 L363.4 377.7 L366.4 379.2 L366.4 395.4" style="stroke:#444"/><path class="k" d="M362.2 351.4 L382.5 357.9"/><path class="kf" d="M361.8 354 L382.1 360.6 L382.1 401.8 Q371.9 409.8 361.8 403.7 Z"/><path class="kf" d="M382.1 360.6 L382.5 357.9 L382.5 398.1 Q382.3 405.4 382.1 401.8 Z"/><path class="t" d="M365.8 355.3 L382.1 360.6 L382.1 399.8"/><path class="g" d="M553.3 373.9 L553.3 400.9 L556.3 402.4 L556.3 418" style="stroke:#444"/><path class="k" d="M555.8 363.1 L535.6 367.2"/><path class="kf" d="M555.3 365.7 L535 369.8 L535 409.3 Q545.1 418.7 555.3 413.7 Z"/><path class="kf" d="M535 369.8 L535.6 367.2 L535.6 405.7 Q535.3 413 535 409.3 Z"/><path class="t" d="M551.2 366.5 L535 369.8 L535 407.3"/><path class="g" d="M361.4 362.4 L361.4 389.2 L364.4 390.7 L364.4 406.4" style="stroke:#444"/><path class="k" d="M361.7 364.1 L381.9 367.9"/><path class="kf" d="M362.3 366.7 L382.6 370.5 L382.6 409.9 Q372.5 419.6 362.3 414.6 Z"/><path class="kf" d="M382.6 370.5 L381.9 367.9 L381.9 406.3 Q382.3 413.6 382.6 409.9 Z"/><path class="t" d="M366.4 367.4 L382.6 370.5 L382.6 407.9"/><path class="g" d="M385 396L385.4 392.7L386.4 389.4L388.2 386.1L390.6 383L393.7 380L397.5 377.1L401.8 374.4L406.7 372L412.1 369.7L417.9 367.7L424.1 366L430.7 364.6L437.5 363.5L444.6 362.7L451.7 362.2L459 362L466.3 362.2L473.4 362.7L480.5 363.5L487.3 364.6L493.9 366L500.1 367.7L505.9 369.7L511.3 372L516.2 374.4L520.5 377.1L524.3 380L527.4 383L529.8 386.1L531.6 389.4L532.6 392.7L533 396"/><path class="g" d="M393.3 395.4L394.1 392.6L395.4 389.9L397.4 387.3L399.8 384.7L402.8 382.3L406.2 380L410.1 377.9L414.4 375.9L419.1 374.1L424.1 372.5L429.5 371.2L435.1 370L440.9 369.2L446.8 368.5L452.9 368.1L459 368L465.1 368.1L471.2 368.5L477.1 369.2L482.9 370L488.5 371.2L493.9 372.5L498.9 374.1L503.6 375.9L507.9 377.9L511.8 380L515.2 382.3L518.2 384.7L520.6 387.3L522.6 389.9L523.9 392.6L524.7 395.4"/><ellipse class="kf" cx="457.6" cy="391" rx="45" ry="22.7"/><ellipse class="kf" cx="459.3" cy="395.1" rx="32" ry="18.6"/><ellipse class="g" cx="459.5" cy="395.6" rx="29.5" ry="16.6"/><ellipse class="k" cx="459.6" cy="396.1" rx="27.4" ry="14.7"/><path class="g" d="M433.9 394L434.6 392.9L435.6 391.9L436.7 391L437.9 390.1L439.2 389.2L440.7 388.4L442.2 387.6L443.9 387L445.6 386.4L447.5 385.8L449.4 385.4L451.4 385L453.4 384.7L455.4 384.5L457.5 384.3L459.6 384.3L461.7 384.3L463.8 384.5L465.8 384.7L467.8 385L469.8 385.4L471.7 385.8L473.6 386.4L475.3 387L477 387.6L478.5 388.4L480 389.2L481.3 390.1L482.5 391L483.6 391.9L484.6 392.9L485.3 394"/><path class="k" d="M454.6 407.5V414.5M457 407.5V414.5M454.6 407.5Q455.8 405.5 457 407.5"/><path class="k" d="M476.8 398.5V414M479.8 398.5V414M476.8 398.5Q478.3 395.5 479.8 398.5"/><path class="k" d="M437 404.5L441.5 407.5L440.5 409L436 406Z"/><path class="k" d="M436.5 383L441.5 381.2M476 381L481 383.2"/><path class="kf" d="M397 381L409 377.5L414.5 379.5L403 384Z"/><path class="k" d="M397 381V389L403 392V384M403 392L412 388"/></g>
<g clip-path="url(#c8out)"><path class="g" d="M555.6 421L553.2 425.9L550.1 430.6L546.4 435.1L542.1 439.4L537.3 443.5L532 447.4L526.2 450.9L519.9 454.2L513.2 457.1L506.1 459.7L498.8 461.9L491.1 463.7L483.3 465.1L475.3 466.2L467.2 466.8L459 467L450.8 466.8L442.7 466.2L434.7 465.1L426.9 463.7L419.2 461.9L411.9 459.7L404.8 457.1L398.1 454.2L391.8 450.9L386 447.4L380.7 443.5L375.9 439.4L371.6 435.1L367.9 430.6L364.8 425.9L362.4 421"/><path class="g" d="M555.6 423.5L553.2 428.4L550.1 433.1L546.4 437.6L542.1 441.9L537.3 446L532 449.9L526.2 453.4L519.9 456.7L513.2 459.6L506.1 462.2L498.8 464.4L491.1 466.2L483.3 467.6L475.3 468.7L467.2 469.3L459 469.5L450.8 469.3L442.7 468.7L434.7 467.6L426.9 466.2L419.2 464.4L411.9 462.2L404.8 459.6L398.1 456.7L391.8 453.4L386 449.9L380.7 446L375.9 441.9L371.6 437.6L367.9 433.1L364.8 428.4L362.4 423.5"/><path class="g" d="M511 423L508.9 425.6L506.6 428L504.1 430.3L501.4 432.5L498.6 434.6L495.5 436.5L492.3 438.2L489 439.8L485.5 441.3L482 442.5L478.3 443.6L474.5 444.4L470.7 445.1L466.8 445.6L462.9 445.9L459 446L455.1 445.9L451.2 445.6L447.3 445.1L443.5 444.4L439.7 443.6L436 442.5L432.5 441.3L429 439.8L425.7 438.2L422.5 436.5L419.4 434.6L416.6 432.5L413.9 430.3L411.4 428L409.1 425.6L407 423"/><path class="kf" d="M575.9 366.5 L576.5 417.2 L571.9 416.8 L572.7 415.4 Q560.4 417.3 557.7 409.3 L557.7 357.5 Z"/><path class="k" d="M578.3 370.5L578.7 417.7"/><path class="kf" d="M343.1 366.5 L343.7 417.2 L347.8 420.2 L348.6 418.9 Q361 432.9 364.1 424.9 L364.1 373.1 Z"/><path class="k" d="M345.5 370.5L345.9 417.7"/><path class="kf" d="M570.8 380.2 L571.4 428.5 L567.6 427.6 L568.4 427.4 Q558.5 428.7 556.3 420.7 L556.3 369.3 Z"/><path class="k" d="M573.2 384.2L573.6 429"/><path class="kf" d="M348.2 380.2 L348.8 428.5 L353.3 430.9 L354.1 430.7 Q367.7 443.6 371.2 435.6 L371.2 384.2 Z"/><path class="k" d="M350.6 384.2L351 429"/><path class="kf" d="M560.8 393 L561.4 439 L558.6 437.8 L559.4 439.8 Q552.2 439.6 550.6 431.6 L550.6 380.6 Z"/><path class="k" d="M563.2 397L563.6 439.5"/><path class="kf" d="M358.2 393 L358.8 439 L363.4 440.8 L364.2 442.8 Q378.5 453.1 382.1 445.1 L382.1 394.1 Z"/><path class="k" d="M360.6 397L361 439.5"/><path class="kf" d="M546.4 404.3 L547 448.3 L545.2 446.9 L546 451.6 Q541.8 449.6 541 441.6 L541 391 Z"/><path class="k" d="M548.8 408.3L549.2 448.8"/><path class="kf" d="M372.6 404.3 L373.2 448.3 L377.8 449.4 L378.6 454.2 Q392.8 461.3 396.3 453.3 L396.3 402.6 Z"/><path class="k" d="M375 408.3L375.4 448.8"/><path class="kf" d="M528.3 413.7 L528.9 456 L528.2 454.5 L529 462.1 Q527.8 458.4 527.8 450.4 L527.8 400 Z"/><path class="k" d="M530.7 417.7L531.1 456.5"/><path class="kf" d="M390.7 413.7 L391.3 456 L395.7 456.5 L396.5 464.2 Q410 467.6 413.4 459.6 L413.4 409.2 Z"/><path class="k" d="M393.1 417.7L393.5 456.5"/><path class="kf" d="M507.1 420.7 L507.7 461.7 L508.1 460.3 L508.9 470.5 Q510.9 465.4 511.6 457.4 L511.6 407.2 Z"/><path class="k" d="M509.5 424.7L509.9 462.2"/><path class="kf" d="M411.9 420.7 L412.5 461.7 L416.4 461.7 L417.2 471.9 Q429.3 471.8 432.4 463.8 L432.4 413.6 Z"/><path class="k" d="M414.3 424.7L414.7 462.2"/><path class="kf" d="M483.8 425 L484.4 465.3 L485.9 464 L486.7 475.9 Q491.7 470.4 493.1 462.4 L493.1 412.4 Z"/><path class="k" d="M486.2 429L486.6 465.8"/><path class="kf" d="M435.2 425 L435.8 465.3 L439 464.7 L439.8 476.6 Q450 473.7 452.6 465.7 L452.6 415.6 Z"/><path class="k" d="M437.6 429L438 465.8"/><path class="kf" d="M459.5 426.5 L460.1 466.5 L462.5 465.5 L463.3 478 Q471.1 473.2 473.2 465.2 L473.2 415.2 Z"/><path class="k" d="M461.9 430.5L462.3 467"/></g>
<path class="k" d="M576.5 365.7L575.9 372.3L574.3 378.8L571.5 385.1L567.6 391.3L562.7 397.3L556.8 402.9L549.9 408.2L542.2 413.1L533.7 417.5L524.5 421.4L514.7 424.8L504.3 427.6L493.5 429.8L482.3 431.4L471 432.4L459.5 432.7L448 432.4L436.7 431.4L425.5 429.8L414.7 427.6L404.3 424.8L394.5 421.4L385.3 417.5L376.8 413.1L369.1 408.2L362.2 402.9L356.3 397.3L351.4 391.3L347.5 385.1L344.7 378.8L343.1 372.3L342.5 365.7"/>
<path d="M576.5 363.5L576.1 369.3L574.7 375.1L572.5 380.8L569.4 386.4L565.5 391.8L560.8 397L555.3 401.9L549.1 406.6L542.2 410.9L534.7 414.8L526.6 418.4L518 421.5L508.9 424.2L499.5 426.5L489.8 428.2L479.8 429.5L469.7 430.2L459.5 430.5L449.3 430.2L439.2 429.5L429.2 428.2L419.5 426.5L410.1 424.2L401 421.5L392.4 418.4L384.3 414.8L376.8 410.9L369.9 406.6L363.7 401.9L358.2 397L353.5 391.8L349.6 386.4L346.5 380.8L344.3 375.1L342.9 369.3L342.5 363.5L342.9 357.7L344.3 351.9L346.5 346.2L349.6 340.6L353.5 335.2L358.2 330L363.7 325.1L369.9 320.4L376.8 316.1L384.3 312.2L392.4 308.6L401 305.5L410.1 302.8L419.5 300.5L429.2 298.8L439.2 297.5L449.3 296.8L459.5 296.5L469.7 296.8L479.8 297.5L489.8 298.8L499.5 300.5L508.9 302.8L518 305.5L526.6 308.6L534.7 312.2L542.2 316.1L549.1 320.4L555.3 325.1L560.8 330L565.5 335.2L569.4 340.6L572.5 346.2L574.7 351.9L576.1 357.7L576.5 363.5ZM556 360.9L555.6 365.8L554.5 370.6L552.7 375.3L550.1 380L546.9 384.5L543 388.8L538.4 392.9L533.2 396.8L527.5 400.4L521.2 403.6L514.5 406.6L507.4 409.2L499.8 411.5L492 413.3L483.9 414.8L475.6 415.9L467.2 416.5L458.7 416.7L450.2 416.5L441.8 415.9L433.5 414.8L425.4 413.3L417.6 411.5L410.1 409.2L402.9 406.6L396.2 403.6L389.9 400.4L384.2 396.8L379 392.9L374.4 388.8L370.5 384.5L367.3 380L364.7 375.3L362.9 370.6L361.8 365.8L361.4 360.9L361.8 356L362.9 351.2L364.7 346.5L367.3 341.8L370.5 337.3L374.4 333L379 328.9L384.2 325L389.9 321.4L396.2 318.2L402.9 315.2L410 312.6L417.6 310.3L425.4 308.5L433.5 307L441.8 305.9L450.2 305.3L458.7 305.1L467.2 305.3L475.6 305.9L483.9 307L492 308.5L499.8 310.3L507.4 312.6L514.5 315.2L521.2 318.2L527.5 321.4L533.2 325L538.4 328.9L543 333L546.9 337.3L550.1 341.8L552.7 346.5L554.5 351.2L555.6 356L556 360.9Z" fill="#fff" fill-rule="evenodd" stroke="#222" stroke-width="0.9"/>
<path class="g" d="M549.2 382.5L546.4 386.4L543.1 390.2L539.3 393.9L535.1 397.4L530.4 400.6L525.3 403.7L519.8 406.5L513.9 409.1L507.8 411.4L501.3 413.4L494.6 415.2L487.7 416.6L480.6 417.7L473.3 418.6L466 419L458.7 419.2L451.4 419L444.1 418.6L436.8 417.7L429.7 416.6L422.8 415.2L416.1 413.4L409.6 411.4L403.5 409.1L397.6 406.5L392.1 403.7L387 400.6L382.3 397.4L378.1 393.9L374.3 390.2L371 386.4L368.2 382.5"/>
</g>
<g id="p5">
<path d="M570.5 576.2L571.7 579L572.6 581.9L573.3 584.9L573.7 587.8L573.9 590.8L573.9 593.7L573.6 596.7L573.1 599.6L572.4 602.5L571.4 605.4L570.2 608.3L568.8 611.2L567.1 614L565.3 616.7L563.2 619.4L560.8 622.1L558.3 624.6L555.6 627.2L552.7 629.6L549.5 632L546.2 634.3L542.7 636.5L539.1 638.6L535.2 640.6L531.2 642.5L527.1 644.3L522.8 646L518.4 647.6L513.9 649.1L509.3 650.4L504.5 651.6L499.7 652.8L494.7 653.7L489.7 654.6L484.7 655.3L479.5 655.9L474.4 656.4L469.2 656.7L464 656.9L458.8 657L453.5 656.9L448.3 656.7L443.1 656.4L438 655.9L432.8 655.3L427.8 654.6L422.8 653.7L417.8 652.8L413 651.6L408.2 650.4L403.6 649.1L399.1 647.6L394.7 646L390.4 644.3L386.3 642.5L382.3 640.6L378.4 638.6L374.8 636.5L371.3 634.3L368 632L364.8 629.6L361.9 627.2L359.2 624.6L356.7 622.1L354.3 619.4L352.2 616.7L350.4 614L348.7 611.2L347.3 608.3L346.1 605.4L345.1 602.5L344.4 599.6L343.9 596.7L343.6 593.7L343.6 590.8L343.8 587.8L344.2 584.9L344.9 581.9L345.8 579L347 576.2L347 584.4L345.8 587.2L344.9 590.1L344.2 593.1L343.8 596L343.6 599L343.6 601.9L343.9 604.9L344.4 607.8L345.1 610.7L346.1 613.6L347.3 616.5L348.7 619.4L350.4 622.2L352.2 624.9L354.3 627.6L356.7 630.3L359.2 632.8L361.9 635.4L364.8 637.8L368 640.2L371.3 642.5L374.8 644.7L378.4 646.8L382.3 648.8L386.3 650.7L390.4 652.5L394.7 654.2L399.1 655.8L403.6 657.3L408.2 658.6L413 659.8L417.8 661L422.8 661.9L427.8 662.8L432.8 663.5L438 664.1L443.1 664.6L448.3 664.9L453.5 665.1L458.8 665.2L464 665.1L469.2 664.9L474.4 664.6L479.5 664.1L484.7 663.5L489.7 662.8L494.7 661.9L499.7 661L504.5 659.8L509.3 658.6L513.9 657.3L518.4 655.8L522.8 654.2L527.1 652.5L531.2 650.7L535.2 648.8L539.1 646.8L542.7 644.7L546.2 642.5L549.5 640.2L552.7 637.8L555.6 635.4L558.3 632.8L560.8 630.3L563.2 627.6L565.3 624.9L567.1 622.2L568.8 619.4L570.2 616.5L571.4 613.6L572.4 610.7L573.1 607.8L573.6 604.9L573.9 601.9L573.9 599L573.7 596L573.3 593.1L572.6 590.1L571.7 587.2L570.5 584.4Z" fill="#b0b0b0" stroke="none"/>
<ellipse class="kf" cx="458.8" cy="591.9" rx="113.7" ry="64.3" style="stroke:none"/>
<path d="M349.2 574.6L342.8 573.6L342.8 583.3L349.2 584.3Z" fill="#e2e2e2" stroke="#222" stroke-width="0.5" stroke-linejoin="round"/>
<path d="M350.3 572.5L343.9 571.4L343.9 581.1L350.3 582.2Z" fill="#e2e2e2" stroke="#222" stroke-width="0.5" stroke-linejoin="round"/>
<path d="M349.2 574.6L342.8 573.6L343.9 571.4L350.3 572.5Z" fill="#fafafa" stroke="#222" stroke-width="0.55" stroke-linejoin="round"/>
<path d="M342.8 573.6L343.9 571.4L343.9 579.9Q343.4 583.6 342.8 582.1Z" fill="#fff" stroke="#222" stroke-width="0.6" stroke-linejoin="round"/>
<path d="M568.5 575L574.9 574L574.9 583.7L568.5 584.7Z" fill="#e2e2e2" stroke="#222" stroke-width="0.5" stroke-linejoin="round"/>
<path d="M569.4 577.1L575.9 576.3L575.9 586L569.4 586.8Z" fill="#e2e2e2" stroke="#222" stroke-width="0.5" stroke-linejoin="round"/>
<path d="M568.5 575L574.9 574L575.9 576.3L569.4 577.1Z" fill="#fafafa" stroke="#222" stroke-width="0.55" stroke-linejoin="round"/>
<path d="M574.9 574L575.9 576.3L575.9 584.8Q575.4 586.2 574.9 582.5Z" fill="#fff" stroke="#222" stroke-width="0.6" stroke-linejoin="round"/>
<path d="M347.7 578.1L341.1 577.3L341.1 587L347.7 587.8Z" fill="#e2e2e2" stroke="#222" stroke-width="0.5" stroke-linejoin="round"/>
<path d="M348.6 576L342.1 575.1L342.1 584.8L348.6 585.7Z" fill="#e2e2e2" stroke="#222" stroke-width="0.5" stroke-linejoin="round"/>
<path d="M347.7 578.1L341.1 577.3L342.1 575.1L348.6 576Z" fill="#fafafa" stroke="#222" stroke-width="0.55" stroke-linejoin="round"/>
<path d="M341.1 577.3L342.1 575.1L342.1 583.6Q341.6 587.3 341.1 585.8Z" fill="#fff" stroke="#222" stroke-width="0.6" stroke-linejoin="round"/>
<path d="M570 578.6L576.5 577.8L576.5 587.5L570 588.3Z" fill="#e2e2e2" stroke="#222" stroke-width="0.5" stroke-linejoin="round"/>
<path d="M570.7 580.7L577.3 580L577.3 589.7L570.7 590.4Z" fill="#e2e2e2" stroke="#222" stroke-width="0.5" stroke-linejoin="round"/>
<path d="M570 578.6L576.5 577.8L577.3 580L570.7 580.7Z" fill="#fafafa" stroke="#222" stroke-width="0.55" stroke-linejoin="round"/>
<path d="M576.5 577.8L577.3 580L577.3 588.5Q576.9 590 576.5 586.3Z" fill="#fff" stroke="#222" stroke-width="0.6" stroke-linejoin="round"/>
<path d="M346.5 581.7L339.9 581.1L339.9 590.8L346.5 591.4Z" fill="#e2e2e2" stroke="#222" stroke-width="0.5" stroke-linejoin="round"/>
<path d="M347.2 579.6L340.6 578.8L340.6 588.5L347.2 589.3Z" fill="#e2e2e2" stroke="#222" stroke-width="0.5" stroke-linejoin="round"/>
<path d="M346.5 581.7L339.9 581.1L340.6 578.8L347.2 579.6Z" fill="#fafafa" stroke="#222" stroke-width="0.55" stroke-linejoin="round"/>
<path d="M339.9 581.1L340.6 578.8L340.6 587.3Q340.2 591.1 339.9 589.6Z" fill="#fff" stroke="#222" stroke-width="0.6" stroke-linejoin="round"/>
<path d="M571.1 582.1L577.8 581.6L577.8 591.3L571.1 591.8Z" fill="#e2e2e2" stroke="#222" stroke-width="0.5" stroke-linejoin="round"/>
<path d="M571.7 584.3L578.3 583.9L578.3 593.6L571.7 594Z" fill="#e2e2e2" stroke="#222" stroke-width="0.5" stroke-linejoin="round"/>
<path d="M571.1 582.1L577.8 581.6L578.3 583.9L571.7 584.3Z" fill="#fafafa" stroke="#222" stroke-width="0.55" stroke-linejoin="round"/>
<path d="M577.8 581.6L578.3 583.9L578.3 592.4Q578 593.8 577.8 590.1Z" fill="#fff" stroke="#222" stroke-width="0.6" stroke-linejoin="round"/>
<path d="M345.6 585.3L339 584.9L339 594.6L345.6 595Z" fill="#e2e2e2" stroke="#222" stroke-width="0.5" stroke-linejoin="round"/>
<path d="M346.1 583.2L339.5 582.6L339.5 592.3L346.1 592.9Z" fill="#e2e2e2" stroke="#222" stroke-width="0.5" stroke-linejoin="round"/>
<path d="M345.6 585.3L339 584.9L339.5 582.6L346.1 583.2Z" fill="#fafafa" stroke="#222" stroke-width="0.55" stroke-linejoin="round"/>
<path d="M339 584.9L339.5 582.6L339.5 591.1Q339.2 594.9 339 593.4Z" fill="#fff" stroke="#222" stroke-width="0.6" stroke-linejoin="round"/>
<path d="M571.9 585.8L578.6 585.4L578.6 595.1L571.9 595.5Z" fill="#e2e2e2" stroke="#222" stroke-width="0.5" stroke-linejoin="round"/>
<path d="M572.2 587.9L578.9 587.7L578.9 597.4L572.2 597.6Z" fill="#e2e2e2" stroke="#222" stroke-width="0.5" stroke-linejoin="round"/>
<path d="M571.9 585.8L578.6 585.4L578.9 587.7L572.2 587.9Z" fill="#fafafa" stroke="#222" stroke-width="0.55" stroke-linejoin="round"/>
<path d="M578.6 585.4L578.9 587.7L578.9 596.2Q578.8 597.6 578.6 593.9Z" fill="#fff" stroke="#222" stroke-width="0.6" stroke-linejoin="round"/>
<path d="M345.2 589L338.5 588.8L338.5 598.5L345.2 598.7Z" fill="#e2e2e2" stroke="#222" stroke-width="0.5" stroke-linejoin="round"/>
<path d="M345.4 586.8L338.7 586.5L338.7 596.2L345.4 596.5Z" fill="#e2e2e2" stroke="#222" stroke-width="0.5" stroke-linejoin="round"/>
<path d="M345.2 589L338.5 588.8L338.7 586.5L345.4 586.8Z" fill="#fafafa" stroke="#222" stroke-width="0.55" stroke-linejoin="round"/>
<path d="M338.5 588.8L338.7 586.5L338.7 595Q338.6 598.7 338.5 597.3Z" fill="#fff" stroke="#222" stroke-width="0.6" stroke-linejoin="round"/>
<path d="M572.4 589.4L579.1 589.2L579.1 598.9L572.4 599.1Z" fill="#e2e2e2" stroke="#222" stroke-width="0.5" stroke-linejoin="round"/>
<path d="M572.4 591.6L579.1 591.5L579.1 601.2L572.4 601.3Z" fill="#e2e2e2" stroke="#222" stroke-width="0.5" stroke-linejoin="round"/>
<path d="M572.4 589.4L579.1 589.2L579.1 591.5L572.4 591.6Z" fill="#fafafa" stroke="#222" stroke-width="0.55" stroke-linejoin="round"/>
<path d="M579.1 589.2L579.1 591.5L579.1 600Q579.1 601.5 579.1 597.7Z" fill="#fff" stroke="#222" stroke-width="0.6" stroke-linejoin="round"/>
<path d="M345.1 592.6L338.4 592.6L338.4 602.3L345.1 602.3Z" fill="#e2e2e2" stroke="#222" stroke-width="0.5" stroke-linejoin="round"/>
<path d="M345.1 590.4L338.4 590.3L338.4 600L345.1 600.1Z" fill="#e2e2e2" stroke="#222" stroke-width="0.5" stroke-linejoin="round"/>
<path d="M345.1 592.6L338.4 592.6L338.4 590.3L345.1 590.4Z" fill="#fafafa" stroke="#222" stroke-width="0.55" stroke-linejoin="round"/>
<path d="M338.4 592.6L338.4 590.3L338.4 598.8Q338.4 602.6 338.4 601.1Z" fill="#fff" stroke="#222" stroke-width="0.6" stroke-linejoin="round"/>
<path d="M572.4 593L579.1 593.1L579.1 602.8L572.4 602.7Z" fill="#e2e2e2" stroke="#222" stroke-width="0.5" stroke-linejoin="round"/>
<path d="M572.3 595.2L579 595.4L579 605.1L572.3 604.9Z" fill="#e2e2e2" stroke="#222" stroke-width="0.5" stroke-linejoin="round"/>
<path d="M572.4 593L579.1 593.1L579 595.4L572.3 595.2Z" fill="#fafafa" stroke="#222" stroke-width="0.55" stroke-linejoin="round"/>
<path d="M579.1 593.1L579 595.4L579 603.9Q579.1 605.3 579.1 601.6Z" fill="#fff" stroke="#222" stroke-width="0.6" stroke-linejoin="round"/>
<path d="M345.3 596.2L338.6 596.5L338.6 606.2L345.3 605.9Z" fill="#e2e2e2" stroke="#222" stroke-width="0.5" stroke-linejoin="round"/>
<path d="M345.1 594.1L338.4 594.2L338.4 603.9L345.1 603.8Z" fill="#e2e2e2" stroke="#222" stroke-width="0.5" stroke-linejoin="round"/>
<path d="M345.3 596.2L338.6 596.5L338.4 594.2L345.1 594.1Z" fill="#fafafa" stroke="#222" stroke-width="0.55" stroke-linejoin="round"/>
<path d="M338.6 596.5L338.4 594.2L338.4 602.7Q338.5 606.4 338.6 605Z" fill="#fff" stroke="#222" stroke-width="0.6" stroke-linejoin="round"/>
<path d="M572.1 596.7L578.8 596.9L578.8 606.6L572.1 606.4Z" fill="#e2e2e2" stroke="#222" stroke-width="0.5" stroke-linejoin="round"/>
<path d="M571.8 598.8L578.4 599.2L578.4 608.9L571.8 608.5Z" fill="#e2e2e2" stroke="#222" stroke-width="0.5" stroke-linejoin="round"/>
<path d="M572.1 596.7L578.8 596.9L578.4 599.2L571.8 598.8Z" fill="#fafafa" stroke="#222" stroke-width="0.55" stroke-linejoin="round"/>
<path d="M578.8 596.9L578.4 599.2L578.4 607.7Q578.6 609.2 578.8 605.4Z" fill="#fff" stroke="#222" stroke-width="0.6" stroke-linejoin="round"/>
<path d="M345.9 599.9L339.3 600.3L339.3 610L345.9 609.6Z" fill="#e2e2e2" stroke="#222" stroke-width="0.5" stroke-linejoin="round"/>
<path d="M345.5 597.7L338.8 598L338.8 607.7L345.5 607.4Z" fill="#e2e2e2" stroke="#222" stroke-width="0.5" stroke-linejoin="round"/>
<path d="M345.9 599.9L339.3 600.3L338.8 598L345.5 597.7Z" fill="#fafafa" stroke="#222" stroke-width="0.55" stroke-linejoin="round"/>
<path d="M339.3 600.3L338.8 598L338.8 606.5Q339.1 610.3 339.3 608.8Z" fill="#fff" stroke="#222" stroke-width="0.6" stroke-linejoin="round"/>
<path d="M571.5 600.3L578.1 600.8L578.1 610.5L571.5 610Z" fill="#e2e2e2" stroke="#222" stroke-width="0.5" stroke-linejoin="round"/>
<path d="M570.9 602.4L577.5 603.1L577.5 612.8L570.9 612.1Z" fill="#e2e2e2" stroke="#222" stroke-width="0.5" stroke-linejoin="round"/>
<path d="M571.5 600.3L578.1 600.8L577.5 603.1L570.9 602.4Z" fill="#fafafa" stroke="#222" stroke-width="0.55" stroke-linejoin="round"/>
<path d="M578.1 600.8L577.5 603.1L577.5 611.6Q577.8 613 578.1 609.3Z" fill="#fff" stroke="#222" stroke-width="0.6" stroke-linejoin="round"/>
<path d="M346.9 603.5L340.3 604.1L340.3 613.8L346.9 613.2Z" fill="#e2e2e2" stroke="#222" stroke-width="0.5" stroke-linejoin="round"/>
<path d="M346.3 601.3L339.6 601.9L339.6 611.6L346.3 611Z" fill="#e2e2e2" stroke="#222" stroke-width="0.5" stroke-linejoin="round"/>
<path d="M346.9 603.5L340.3 604.1L339.6 601.9L346.3 601.3Z" fill="#fafafa" stroke="#222" stroke-width="0.55" stroke-linejoin="round"/>
<path d="M340.3 604.1L339.6 601.9L339.6 610.4Q340 614.1 340.3 612.6Z" fill="#fff" stroke="#222" stroke-width="0.6" stroke-linejoin="round"/>
<path d="M570.5 603.9L577 604.6L577 614.3L570.5 613.6Z" fill="#e2e2e2" stroke="#222" stroke-width="0.5" stroke-linejoin="round"/>
<path d="M569.7 606L576.2 606.8L576.2 616.5L569.7 615.7Z" fill="#e2e2e2" stroke="#222" stroke-width="0.5" stroke-linejoin="round"/>
<path d="M570.5 603.9L577 604.6L576.2 606.8L569.7 606Z" fill="#fafafa" stroke="#222" stroke-width="0.55" stroke-linejoin="round"/>
<path d="M577 604.6L576.2 606.8L576.2 615.3Q576.6 616.8 577 613.1Z" fill="#fff" stroke="#222" stroke-width="0.6" stroke-linejoin="round"/>
<path d="M348.2 607L341.7 607.9L341.7 617.6L348.2 616.7Z" fill="#e2e2e2" stroke="#222" stroke-width="0.5" stroke-linejoin="round"/>
<path d="M347.4 604.9L340.8 605.7L340.8 615.4L347.4 614.6Z" fill="#e2e2e2" stroke="#222" stroke-width="0.5" stroke-linejoin="round"/>
<path d="M348.2 607L341.7 607.9L340.8 605.7L347.4 604.9Z" fill="#fafafa" stroke="#222" stroke-width="0.55" stroke-linejoin="round"/>
<path d="M341.7 607.9L340.8 605.7L340.8 614.2Q341.3 617.9 341.7 616.4Z" fill="#fff" stroke="#222" stroke-width="0.6" stroke-linejoin="round"/>
<path d="M569.1 607.4L575.6 608.3L575.6 618L569.1 617.1Z" fill="#e2e2e2" stroke="#222" stroke-width="0.5" stroke-linejoin="round"/>
<path d="M568.1 609.5L574.5 610.6L574.5 620.3L568.1 619.2Z" fill="#e2e2e2" stroke="#222" stroke-width="0.5" stroke-linejoin="round"/>
<path d="M569.1 607.4L575.6 608.3L574.5 610.6L568.1 609.5Z" fill="#fafafa" stroke="#222" stroke-width="0.55" stroke-linejoin="round"/>
<path d="M575.6 608.3L574.5 610.6L574.5 619.1Q575.1 620.6 575.6 616.8Z" fill="#fff" stroke="#222" stroke-width="0.6" stroke-linejoin="round"/>
<path d="M349.9 610.5L343.5 611.6L343.5 621.3L349.9 620.2Z" fill="#e2e2e2" stroke="#222" stroke-width="0.5" stroke-linejoin="round"/>
<path d="M348.9 608.4L342.4 609.4L342.4 619.1L348.9 618.1Z" fill="#e2e2e2" stroke="#222" stroke-width="0.5" stroke-linejoin="round"/>
<path d="M349.9 610.5L343.5 611.6L342.4 609.4L348.9 608.4Z" fill="#fafafa" stroke="#222" stroke-width="0.55" stroke-linejoin="round"/>
<path d="M343.5 611.6L342.4 609.4L342.4 617.9Q343 621.6 343.5 620.1Z" fill="#fff" stroke="#222" stroke-width="0.6" stroke-linejoin="round"/>
<path d="M567.4 610.9L573.8 612.1L573.8 621.8L567.4 620.6Z" fill="#e2e2e2" stroke="#222" stroke-width="0.5" stroke-linejoin="round"/>
<path d="M566.2 613L572.5 614.3L572.5 624L566.2 622.7Z" fill="#e2e2e2" stroke="#222" stroke-width="0.5" stroke-linejoin="round"/>
<path d="M567.4 610.9L573.8 612.1L572.5 614.3L566.2 613Z" fill="#fafafa" stroke="#222" stroke-width="0.55" stroke-linejoin="round"/>
<path d="M573.8 612.1L572.5 614.3L572.5 622.8Q573.1 624.3 573.8 620.6Z" fill="#fff" stroke="#222" stroke-width="0.6" stroke-linejoin="round"/>
<path d="M352 614L345.7 615.3L345.7 625L352 623.7Z" fill="#e2e2e2" stroke="#222" stroke-width="0.5" stroke-linejoin="round"/>
<path d="M350.7 611.9L344.3 613.1L344.3 622.8L350.7 621.6Z" fill="#e2e2e2" stroke="#222" stroke-width="0.5" stroke-linejoin="round"/>
<path d="M352 614L345.7 615.3L344.3 613.1L350.7 611.9Z" fill="#fafafa" stroke="#222" stroke-width="0.55" stroke-linejoin="round"/>
<path d="M345.7 615.3L344.3 613.1L344.3 621.6Q345 625.3 345.7 623.8Z" fill="#fff" stroke="#222" stroke-width="0.6" stroke-linejoin="round"/>
<path d="M565.3 614.4L571.6 615.7L571.6 625.4L565.3 624.1Z" fill="#e2e2e2" stroke="#222" stroke-width="0.5" stroke-linejoin="round"/>
<path d="M563.9 616.4L570.1 617.9L570.1 627.6L563.9 626.1Z" fill="#e2e2e2" stroke="#222" stroke-width="0.5" stroke-linejoin="round"/>
<path d="M565.3 614.4L571.6 615.7L570.1 617.9L563.9 616.4Z" fill="#fafafa" stroke="#222" stroke-width="0.55" stroke-linejoin="round"/>
<path d="M571.6 615.7L570.1 617.9L570.1 626.4Q570.8 627.9 571.6 624.2Z" fill="#fff" stroke="#222" stroke-width="0.6" stroke-linejoin="round"/>
<path d="M354.3 617.4L348.2 618.9L348.2 628.6L354.3 627.1Z" fill="#e2e2e2" stroke="#222" stroke-width="0.5" stroke-linejoin="round"/>
<path d="M352.9 615.3L346.6 616.7L346.6 626.4L352.9 625Z" fill="#e2e2e2" stroke="#222" stroke-width="0.5" stroke-linejoin="round"/>
<path d="M354.3 617.4L348.2 618.9L346.6 616.7L352.9 615.3Z" fill="#fafafa" stroke="#222" stroke-width="0.55" stroke-linejoin="round"/>
<path d="M348.2 618.9L346.6 616.7L346.6 625.2Q347.4 628.9 348.2 627.4Z" fill="#fff" stroke="#222" stroke-width="0.6" stroke-linejoin="round"/>
<path d="M562.9 617.7L569 619.3L569 629L562.9 627.4Z" fill="#e2e2e2" stroke="#222" stroke-width="0.5" stroke-linejoin="round"/>
<path d="M561.2 619.7L567.3 621.4L567.3 631.1L561.2 629.4Z" fill="#e2e2e2" stroke="#222" stroke-width="0.5" stroke-linejoin="round"/>
<path d="M562.9 617.7L569 619.3L567.3 621.4L561.2 619.7Z" fill="#fafafa" stroke="#222" stroke-width="0.55" stroke-linejoin="round"/>
<path d="M569 619.3L567.3 621.4L567.3 629.9Q568.1 631.4 569 627.8Z" fill="#fff" stroke="#222" stroke-width="0.6" stroke-linejoin="round"/>
<path d="M357.1 620.7L351.1 622.4L351.1 632.1L357.1 630.4Z" fill="#e2e2e2" stroke="#222" stroke-width="0.5" stroke-linejoin="round"/>
<path d="M355.4 618.7L349.3 620.3L349.3 630L355.4 628.4Z" fill="#e2e2e2" stroke="#222" stroke-width="0.5" stroke-linejoin="round"/>
<path d="M357.1 620.7L351.1 622.4L349.3 620.3L355.4 618.7Z" fill="#fafafa" stroke="#222" stroke-width="0.55" stroke-linejoin="round"/>
<path d="M351.1 622.4L349.3 620.3L349.3 628.8Q350.2 632.4 351.1 630.9Z" fill="#fff" stroke="#222" stroke-width="0.6" stroke-linejoin="round"/>
<path d="M560.1 621L566.1 622.8L566.1 632.5L560.1 630.7Z" fill="#e2e2e2" stroke="#222" stroke-width="0.5" stroke-linejoin="round"/>
<path d="M558.3 623L564.2 624.8L564.2 634.5L558.3 632.7Z" fill="#e2e2e2" stroke="#222" stroke-width="0.5" stroke-linejoin="round"/>
<path d="M560.1 621L566.1 622.8L564.2 624.8L558.3 623Z" fill="#fafafa" stroke="#222" stroke-width="0.55" stroke-linejoin="round"/>
<path d="M566.1 622.8L564.2 624.8L564.2 633.3Q565.1 634.9 566.1 631.3Z" fill="#fff" stroke="#222" stroke-width="0.6" stroke-linejoin="round"/>
<path d="M360.1 623.9L354.3 625.8L354.3 635.5L360.1 633.6Z" fill="#e2e2e2" stroke="#222" stroke-width="0.5" stroke-linejoin="round"/>
<path d="M358.2 622L352.3 623.7L352.3 633.4L358.2 631.7Z" fill="#e2e2e2" stroke="#222" stroke-width="0.5" stroke-linejoin="round"/>
<path d="M360.1 623.9L354.3 625.8L352.3 623.7L358.2 622Z" fill="#fafafa" stroke="#222" stroke-width="0.55" stroke-linejoin="round"/>
<path d="M354.3 625.8L352.3 623.7L352.3 632.2Q353.3 635.8 354.3 634.3Z" fill="#fff" stroke="#222" stroke-width="0.6" stroke-linejoin="round"/>
<path d="M557 624.2L562.8 626.1L562.8 635.8L557 633.9Z" fill="#e2e2e2" stroke="#222" stroke-width="0.5" stroke-linejoin="round"/>
<path d="M555 626.1L560.7 628.1L560.7 637.8L555 635.8Z" fill="#e2e2e2" stroke="#222" stroke-width="0.5" stroke-linejoin="round"/>
<path d="M557 624.2L562.8 626.1L560.7 628.1L555 626.1Z" fill="#fafafa" stroke="#222" stroke-width="0.55" stroke-linejoin="round"/>
<path d="M562.8 626.1L560.7 628.1L560.7 636.6Q561.8 638.2 562.8 634.6Z" fill="#fff" stroke="#222" stroke-width="0.6" stroke-linejoin="round"/>
<path d="M363.5 627L357.8 629L357.8 638.7L363.5 636.7Z" fill="#e2e2e2" stroke="#222" stroke-width="0.5" stroke-linejoin="round"/>
<path d="M361.4 625.1L355.7 627.1L355.7 636.8L361.4 634.8Z" fill="#e2e2e2" stroke="#222" stroke-width="0.5" stroke-linejoin="round"/>
<path d="M363.5 627L357.8 629L355.7 627.1L361.4 625.1Z" fill="#fafafa" stroke="#222" stroke-width="0.55" stroke-linejoin="round"/>
<path d="M357.8 629L355.7 627.1L355.7 635.6Q356.8 639.2 357.8 637.5Z" fill="#fff" stroke="#222" stroke-width="0.6" stroke-linejoin="round"/>
<path d="M553.6 627.3L559.2 629.4L559.2 639.1L553.6 637Z" fill="#e2e2e2" stroke="#222" stroke-width="0.5" stroke-linejoin="round"/>
<path d="M551.5 629.1L556.9 631.3L556.9 641L551.5 638.8Z" fill="#e2e2e2" stroke="#222" stroke-width="0.5" stroke-linejoin="round"/>
<path d="M553.6 627.3L559.2 629.4L556.9 631.3L551.5 629.1Z" fill="#fafafa" stroke="#222" stroke-width="0.55" stroke-linejoin="round"/>
<path d="M559.2 629.4L556.9 631.3L556.9 639.8Q558.1 641.5 559.2 637.9Z" fill="#fff" stroke="#222" stroke-width="0.6" stroke-linejoin="round"/>
<path d="M367.1 630L361.7 632.2L361.7 641.9L367.1 639.7Z" fill="#e2e2e2" stroke="#222" stroke-width="0.5" stroke-linejoin="round"/>
<path d="M364.9 628.2L359.3 630.3L359.3 640L364.9 637.9Z" fill="#e2e2e2" stroke="#222" stroke-width="0.5" stroke-linejoin="round"/>
<path d="M367.1 630L361.7 632.2L359.3 630.3L364.9 628.2Z" fill="#fafafa" stroke="#222" stroke-width="0.55" stroke-linejoin="round"/>
<path d="M361.7 632.2L359.3 630.3L359.3 638.8Q360.5 642.4 361.7 640.7Z" fill="#fff" stroke="#222" stroke-width="0.6" stroke-linejoin="round"/>
<path d="M549.9 630.3L555.3 632.6L555.3 642.3L549.9 640Z" fill="#e2e2e2" stroke="#222" stroke-width="0.5" stroke-linejoin="round"/>
<path d="M547.6 632L552.8 634.4L552.8 644.1L547.6 641.7Z" fill="#e2e2e2" stroke="#222" stroke-width="0.5" stroke-linejoin="round"/>
<path d="M549.9 630.3L555.3 632.6L552.8 634.4L547.6 632Z" fill="#fafafa" stroke="#222" stroke-width="0.55" stroke-linejoin="round"/>
<path d="M555.3 632.6L552.8 634.4L552.8 642.9Q554.1 644.6 555.3 641.1Z" fill="#fff" stroke="#222" stroke-width="0.6" stroke-linejoin="round"/>
<path d="M371.1 632.8L365.9 635.3L365.9 645L371.1 642.5Z" fill="#e2e2e2" stroke="#222" stroke-width="0.5" stroke-linejoin="round"/>
<path d="M368.7 631.1L363.4 633.4L363.4 643.1L368.7 640.8Z" fill="#e2e2e2" stroke="#222" stroke-width="0.5" stroke-linejoin="round"/>
<path d="M371.1 632.8L365.9 635.3L363.4 633.4L368.7 631.1Z" fill="#fafafa" stroke="#222" stroke-width="0.55" stroke-linejoin="round"/>
<path d="M365.9 635.3L363.4 633.4L363.4 641.9Q364.6 645.4 365.9 643.8Z" fill="#fff" stroke="#222" stroke-width="0.6" stroke-linejoin="round"/>
<path d="M546 633.2L551.1 635.6L551.1 645.3L546 642.9Z" fill="#e2e2e2" stroke="#222" stroke-width="0.5" stroke-linejoin="round"/>
<path d="M543.4 634.8L548.4 637.3L548.4 647L543.4 644.5Z" fill="#e2e2e2" stroke="#222" stroke-width="0.5" stroke-linejoin="round"/>
<path d="M546 633.2L551.1 635.6L548.4 637.3L543.4 634.8Z" fill="#fafafa" stroke="#222" stroke-width="0.55" stroke-linejoin="round"/>
<path d="M551.1 635.6L548.4 637.3L548.4 645.8Q549.8 647.6 551.1 644.1Z" fill="#fff" stroke="#222" stroke-width="0.6" stroke-linejoin="round"/>
<path d="M375.3 635.6L370.4 638.2L370.4 647.9L375.3 645.3Z" fill="#e2e2e2" stroke="#222" stroke-width="0.5" stroke-linejoin="round"/>
<path d="M372.7 633.9L367.7 636.4L367.7 646.1L372.7 643.6Z" fill="#e2e2e2" stroke="#222" stroke-width="0.5" stroke-linejoin="round"/>
<path d="M375.3 635.6L370.4 638.2L367.7 636.4L372.7 633.9Z" fill="#fafafa" stroke="#222" stroke-width="0.55" stroke-linejoin="round"/>
<path d="M370.4 638.2L367.7 636.4L367.7 644.9Q369 648.4 370.4 646.7Z" fill="#fff" stroke="#222" stroke-width="0.6" stroke-linejoin="round"/>
<path d="M541.7 635.9L546.6 638.5L546.6 648.2L541.7 645.6Z" fill="#e2e2e2" stroke="#222" stroke-width="0.5" stroke-linejoin="round"/>
<path d="M539 637.5L543.7 640.1L543.7 649.8L539 647.2Z" fill="#e2e2e2" stroke="#222" stroke-width="0.5" stroke-linejoin="round"/>
<path d="M541.7 635.9L546.6 638.5L543.7 640.1L539 637.5Z" fill="#fafafa" stroke="#222" stroke-width="0.55" stroke-linejoin="round"/>
<path d="M546.6 638.5L543.7 640.1L543.7 648.6Q545.1 650.4 546.6 647Z" fill="#fff" stroke="#222" stroke-width="0.6" stroke-linejoin="round"/>
<path d="M379.8 638.2L375.2 640.9L375.2 650.6L379.8 647.9Z" fill="#e2e2e2" stroke="#222" stroke-width="0.5" stroke-linejoin="round"/>
<path d="M377.1 636.6L372.3 639.3L372.3 649L377.1 646.3Z" fill="#e2e2e2" stroke="#222" stroke-width="0.5" stroke-linejoin="round"/>
<path d="M379.8 638.2L375.2 640.9L372.3 639.3L377.1 636.6Z" fill="#fafafa" stroke="#222" stroke-width="0.55" stroke-linejoin="round"/>
<path d="M375.2 640.9L372.3 639.3L372.3 647.8Q373.7 651.2 375.2 649.4Z" fill="#fff" stroke="#222" stroke-width="0.6" stroke-linejoin="round"/>
<path d="M537.2 638.5L541.8 641.2L541.8 650.9L537.2 648.2Z" fill="#e2e2e2" stroke="#222" stroke-width="0.5" stroke-linejoin="round"/>
<path d="M534.3 639.9L538.8 642.8L538.8 652.5L534.3 649.6Z" fill="#e2e2e2" stroke="#222" stroke-width="0.5" stroke-linejoin="round"/>
<path d="M537.2 638.5L541.8 641.2L538.8 642.8L534.3 639.9Z" fill="#fafafa" stroke="#222" stroke-width="0.55" stroke-linejoin="round"/>
<path d="M541.8 641.2L538.8 642.8L538.8 651.3Q540.3 653.1 541.8 649.7Z" fill="#fff" stroke="#222" stroke-width="0.6" stroke-linejoin="round"/>
<path d="M384.6 640.6L380.2 643.5L380.2 653.2L384.6 650.3Z" fill="#e2e2e2" stroke="#222" stroke-width="0.5" stroke-linejoin="round"/>
<path d="M381.7 639.2L377.1 642L377.1 651.7L381.7 648.9Z" fill="#e2e2e2" stroke="#222" stroke-width="0.5" stroke-linejoin="round"/>
<path d="M384.6 640.6L380.2 643.5L377.1 642L381.7 639.2Z" fill="#fafafa" stroke="#222" stroke-width="0.55" stroke-linejoin="round"/>
<path d="M380.2 643.5L377.1 642L377.1 650.5Q378.7 653.8 380.2 652Z" fill="#fff" stroke="#222" stroke-width="0.6" stroke-linejoin="round"/>
<path d="M532.4 640.9L536.7 643.8L536.7 653.5L532.4 650.6Z" fill="#e2e2e2" stroke="#222" stroke-width="0.5" stroke-linejoin="round"/>
<path d="M529.4 642.3L533.5 645.3L533.5 655L529.4 652Z" fill="#e2e2e2" stroke="#222" stroke-width="0.5" stroke-linejoin="round"/>
<path d="M532.4 640.9L536.7 643.8L533.5 645.3L529.4 642.3Z" fill="#fafafa" stroke="#222" stroke-width="0.55" stroke-linejoin="round"/>
<path d="M536.7 643.8L533.5 645.3L533.5 653.8Q535.1 655.6 536.7 652.3Z" fill="#fff" stroke="#222" stroke-width="0.6" stroke-linejoin="round"/>
<path d="M389.6 642.9L385.5 645.9L385.5 655.6L389.6 652.6Z" fill="#e2e2e2" stroke="#222" stroke-width="0.5" stroke-linejoin="round"/>
<path d="M386.5 641.6L382.3 644.5L382.3 654.2L386.5 651.3Z" fill="#e2e2e2" stroke="#222" stroke-width="0.5" stroke-linejoin="round"/>
<path d="M389.6 642.9L385.5 645.9L382.3 644.5L386.5 641.6Z" fill="#fafafa" stroke="#222" stroke-width="0.55" stroke-linejoin="round"/>
<path d="M385.5 645.9L382.3 644.5L382.3 653Q383.9 656.3 385.5 654.4Z" fill="#fff" stroke="#222" stroke-width="0.6" stroke-linejoin="round"/>
<path d="M527.3 643.2L531.4 646.2L531.4 655.9L527.3 652.9Z" fill="#e2e2e2" stroke="#222" stroke-width="0.5" stroke-linejoin="round"/>
<path d="M524.2 644.5L528.1 647.6L528.1 657.3L524.2 654.2Z" fill="#e2e2e2" stroke="#222" stroke-width="0.5" stroke-linejoin="round"/>
<path d="M527.3 643.2L531.4 646.2L528.1 647.6L524.2 644.5Z" fill="#fafafa" stroke="#222" stroke-width="0.55" stroke-linejoin="round"/>
<path d="M531.4 646.2L528.1 647.6L528.1 656.1Q529.7 658 531.4 654.7Z" fill="#fff" stroke="#222" stroke-width="0.6" stroke-linejoin="round"/>
<path d="M394.8 645.1L391 648.2L391 657.9L394.8 654.8Z" fill="#e2e2e2" stroke="#222" stroke-width="0.5" stroke-linejoin="round"/>
<path d="M391.6 643.8L387.7 646.9L387.7 656.6L391.6 653.5Z" fill="#e2e2e2" stroke="#222" stroke-width="0.5" stroke-linejoin="round"/>
<path d="M394.8 645.1L391 648.2L387.7 646.9L391.6 643.8Z" fill="#fafafa" stroke="#222" stroke-width="0.55" stroke-linejoin="round"/>
<path d="M391 648.2L387.7 646.9L387.7 655.4Q389.3 658.6 391 656.7Z" fill="#fff" stroke="#222" stroke-width="0.6" stroke-linejoin="round"/>
<path d="M522.1 645.3L525.8 648.4L525.8 658.1L522.1 655Z" fill="#e2e2e2" stroke="#222" stroke-width="0.5" stroke-linejoin="round"/>
<path d="M518.9 646.5L522.4 649.7L522.4 659.4L518.9 656.2Z" fill="#e2e2e2" stroke="#222" stroke-width="0.5" stroke-linejoin="round"/>
<path d="M522.1 645.3L525.8 648.4L522.4 649.7L518.9 646.5Z" fill="#fafafa" stroke="#222" stroke-width="0.55" stroke-linejoin="round"/>
<path d="M525.8 648.4L522.4 649.7L522.4 658.2Q524.1 660.2 525.8 656.9Z" fill="#fff" stroke="#222" stroke-width="0.6" stroke-linejoin="round"/>
<path d="M400.2 647L396.7 650.3L396.7 660L400.2 656.7Z" fill="#e2e2e2" stroke="#222" stroke-width="0.5" stroke-linejoin="round"/>
<path d="M396.9 645.9L393.3 649L393.3 658.7L396.9 655.6Z" fill="#e2e2e2" stroke="#222" stroke-width="0.5" stroke-linejoin="round"/>
<path d="M400.2 647L396.7 650.3L393.3 649L396.9 645.9Z" fill="#fafafa" stroke="#222" stroke-width="0.55" stroke-linejoin="round"/>
<path d="M396.7 650.3L393.3 649L393.3 657.5Q395 660.8 396.7 658.8Z" fill="#fff" stroke="#222" stroke-width="0.6" stroke-linejoin="round"/>
<path d="M516.7 647.2L520.1 650.5L520.1 660.2L516.7 656.9Z" fill="#e2e2e2" stroke="#222" stroke-width="0.5" stroke-linejoin="round"/>
<path d="M513.3 648.3L516.5 651.6L516.5 661.3L513.3 658Z" fill="#e2e2e2" stroke="#222" stroke-width="0.5" stroke-linejoin="round"/>
<path d="M516.7 647.2L520.1 650.5L516.5 651.6L513.3 648.3Z" fill="#fafafa" stroke="#222" stroke-width="0.55" stroke-linejoin="round"/>
<path d="M520.1 650.5L516.5 651.6L516.5 660.1Q518.3 662.2 520.1 659Z" fill="#fff" stroke="#222" stroke-width="0.6" stroke-linejoin="round"/>
<path d="M405.8 648.8L402.7 652.2L402.7 661.9L405.8 658.5Z" fill="#e2e2e2" stroke="#222" stroke-width="0.5" stroke-linejoin="round"/>
<path d="M402.4 647.8L399.1 651.1L399.1 660.8L402.4 657.5Z" fill="#e2e2e2" stroke="#222" stroke-width="0.5" stroke-linejoin="round"/>
<path d="M405.8 648.8L402.7 652.2L399.1 651.1L402.4 647.8Z" fill="#fafafa" stroke="#222" stroke-width="0.55" stroke-linejoin="round"/>
<path d="M402.7 652.2L399.1 651.1L399.1 659.6Q400.9 662.7 402.7 660.7Z" fill="#fff" stroke="#222" stroke-width="0.6" stroke-linejoin="round"/>
<path d="M511 649L514.1 652.4L514.1 662.1L511 658.7Z" fill="#e2e2e2" stroke="#222" stroke-width="0.5" stroke-linejoin="round"/>
<path d="M507.6 650L510.5 653.4L510.5 663.1L507.6 659.7Z" fill="#e2e2e2" stroke="#222" stroke-width="0.5" stroke-linejoin="round"/>
<path d="M511 649L514.1 652.4L510.5 653.4L507.6 650Z" fill="#fafafa" stroke="#222" stroke-width="0.55" stroke-linejoin="round"/>
<path d="M514.1 652.4L510.5 653.4L510.5 661.9Q512.3 664 514.1 660.9Z" fill="#fff" stroke="#222" stroke-width="0.6" stroke-linejoin="round"/>
<path d="M411.6 650.4L408.8 653.9L408.8 663.6L411.6 660.1Z" fill="#e2e2e2" stroke="#222" stroke-width="0.5" stroke-linejoin="round"/>
<path d="M408.1 649.5L405.1 652.9L405.1 662.6L408.1 659.2Z" fill="#e2e2e2" stroke="#222" stroke-width="0.5" stroke-linejoin="round"/>
<path d="M411.6 650.4L408.8 653.9L405.1 652.9L408.1 649.5Z" fill="#fafafa" stroke="#222" stroke-width="0.55" stroke-linejoin="round"/>
<path d="M408.8 653.9L405.1 652.9L405.1 661.4Q406.9 664.5 408.8 662.4Z" fill="#fff" stroke="#222" stroke-width="0.6" stroke-linejoin="round"/>
<path d="M505.2 650.6L508 654L508 663.7L505.2 660.3Z" fill="#e2e2e2" stroke="#222" stroke-width="0.5" stroke-linejoin="round"/>
<path d="M501.7 651.4L504.2 655L504.2 664.7L501.7 661.1Z" fill="#e2e2e2" stroke="#222" stroke-width="0.5" stroke-linejoin="round"/>
<path d="M505.2 650.6L508 654L504.2 655L501.7 651.4Z" fill="#fafafa" stroke="#222" stroke-width="0.55" stroke-linejoin="round"/>
<path d="M508 654L504.2 655L504.2 663.5Q506.1 665.6 508 662.5Z" fill="#fff" stroke="#222" stroke-width="0.6" stroke-linejoin="round"/>
<path d="M417.5 651.8L415.1 655.4L415.1 665.1L417.5 661.5Z" fill="#e2e2e2" stroke="#222" stroke-width="0.5" stroke-linejoin="round"/>
<path d="M413.9 651L411.3 654.5L411.3 664.2L413.9 660.7Z" fill="#e2e2e2" stroke="#222" stroke-width="0.5" stroke-linejoin="round"/>
<path d="M417.5 651.8L415.1 655.4L411.3 654.5L413.9 651Z" fill="#fafafa" stroke="#222" stroke-width="0.55" stroke-linejoin="round"/>
<path d="M415.1 655.4L411.3 654.5L411.3 663Q413.2 666 415.1 663.9Z" fill="#fff" stroke="#222" stroke-width="0.6" stroke-linejoin="round"/>
<path d="M499.3 652L501.7 655.5L501.7 665.2L499.3 661.7Z" fill="#e2e2e2" stroke="#222" stroke-width="0.5" stroke-linejoin="round"/>
<path d="M495.7 652.7L497.8 656.3L497.8 666L495.7 662.4Z" fill="#e2e2e2" stroke="#222" stroke-width="0.5" stroke-linejoin="round"/>
<path d="M499.3 652L501.7 655.5L497.8 656.3L495.7 652.7Z" fill="#fafafa" stroke="#222" stroke-width="0.55" stroke-linejoin="round"/>
<path d="M501.7 655.5L497.8 656.3L497.8 664.8Q499.8 667 501.7 664Z" fill="#fff" stroke="#222" stroke-width="0.6" stroke-linejoin="round"/>
<path d="M423.6 653L421.5 656.7L421.5 666.4L423.6 662.7Z" fill="#e2e2e2" stroke="#222" stroke-width="0.5" stroke-linejoin="round"/>
<path d="M419.9 652.3L417.6 655.9L417.6 665.6L419.9 662Z" fill="#e2e2e2" stroke="#222" stroke-width="0.5" stroke-linejoin="round"/>
<path d="M423.6 653L421.5 656.7L417.6 655.9L419.9 652.3Z" fill="#fafafa" stroke="#222" stroke-width="0.55" stroke-linejoin="round"/>
<path d="M421.5 656.7L417.6 655.9L417.6 664.4Q419.6 667.4 421.5 665.2Z" fill="#fff" stroke="#222" stroke-width="0.6" stroke-linejoin="round"/>
<path d="M493.2 653.2L495.3 656.8L495.3 666.5L493.2 662.9Z" fill="#e2e2e2" stroke="#222" stroke-width="0.5" stroke-linejoin="round"/>
<path d="M489.5 653.8L491.3 657.5L491.3 667.2L489.5 663.5Z" fill="#e2e2e2" stroke="#222" stroke-width="0.5" stroke-linejoin="round"/>
<path d="M493.2 653.2L495.3 656.8L491.3 657.5L489.5 653.8Z" fill="#fafafa" stroke="#222" stroke-width="0.55" stroke-linejoin="round"/>
<path d="M495.3 656.8L491.3 657.5L491.3 666Q493.3 668.2 495.3 665.3Z" fill="#fff" stroke="#222" stroke-width="0.6" stroke-linejoin="round"/>
<path d="M429.7 654.1L428 657.7L428 667.4L429.7 663.8Z" fill="#e2e2e2" stroke="#222" stroke-width="0.5" stroke-linejoin="round"/>
<path d="M426 653.5L424.1 657.1L424.1 666.8L426 663.2Z" fill="#e2e2e2" stroke="#222" stroke-width="0.5" stroke-linejoin="round"/>
<path d="M429.7 654.1L428 657.7L424.1 657.1L426 653.5Z" fill="#fafafa" stroke="#222" stroke-width="0.55" stroke-linejoin="round"/>
<path d="M428 657.7L424.1 657.1L424.1 665.6Q426.1 668.5 428 666.2Z" fill="#fff" stroke="#222" stroke-width="0.6" stroke-linejoin="round"/>
<path d="M487 654.2L488.7 657.9L488.7 667.6L487 663.9Z" fill="#e2e2e2" stroke="#222" stroke-width="0.5" stroke-linejoin="round"/>
<path d="M483.3 654.7L484.7 658.4L484.7 668.1L483.3 664.4Z" fill="#e2e2e2" stroke="#222" stroke-width="0.5" stroke-linejoin="round"/>
<path d="M487 654.2L488.7 657.9L484.7 658.4L483.3 654.7Z" fill="#fafafa" stroke="#222" stroke-width="0.55" stroke-linejoin="round"/>
<path d="M488.7 657.9L484.7 658.4L484.7 666.9Q486.7 669.2 488.7 666.4Z" fill="#fff" stroke="#222" stroke-width="0.6" stroke-linejoin="round"/>
<path d="M436 654.9L434.7 658.6L434.7 668.3L436 664.6Z" fill="#e2e2e2" stroke="#222" stroke-width="0.5" stroke-linejoin="round"/>
<path d="M432.2 654.4L430.7 658.1L430.7 667.8L432.2 664.1Z" fill="#e2e2e2" stroke="#222" stroke-width="0.5" stroke-linejoin="round"/>
<path d="M436 654.9L434.7 658.6L430.7 658.1L432.2 654.4Z" fill="#fafafa" stroke="#222" stroke-width="0.55" stroke-linejoin="round"/>
<path d="M434.7 658.6L430.7 658.1L430.7 666.6Q432.7 669.5 434.7 667.1Z" fill="#fff" stroke="#222" stroke-width="0.6" stroke-linejoin="round"/>
<path d="M480.8 655L482.1 658.7L482.1 668.4L480.8 664.7Z" fill="#e2e2e2" stroke="#222" stroke-width="0.5" stroke-linejoin="round"/>
<path d="M477 655.4L478 659.1L478 668.8L477 665.1Z" fill="#e2e2e2" stroke="#222" stroke-width="0.5" stroke-linejoin="round"/>
<path d="M480.8 655L482.1 658.7L478 659.1L477 655.4Z" fill="#fafafa" stroke="#222" stroke-width="0.55" stroke-linejoin="round"/>
<path d="M482.1 658.7L478 659.1L478 667.6Q480 670 482.1 667.2Z" fill="#fff" stroke="#222" stroke-width="0.6" stroke-linejoin="round"/>
<path d="M442.3 655.5L441.4 659.3L441.4 669L442.3 665.2Z" fill="#e2e2e2" stroke="#222" stroke-width="0.5" stroke-linejoin="round"/>
<path d="M438.5 655.2L437.3 658.9L437.3 668.6L438.5 664.9Z" fill="#e2e2e2" stroke="#222" stroke-width="0.5" stroke-linejoin="round"/>
<path d="M442.3 655.5L441.4 659.3L437.3 658.9L438.5 655.2Z" fill="#fafafa" stroke="#222" stroke-width="0.55" stroke-linejoin="round"/>
<path d="M441.4 659.3L437.3 658.9L437.3 667.4Q439.4 670.2 441.4 667.8Z" fill="#fff" stroke="#222" stroke-width="0.6" stroke-linejoin="round"/>
<path d="M474.4 655.6L475.3 659.4L475.3 669.1L474.4 665.3Z" fill="#e2e2e2" stroke="#222" stroke-width="0.5" stroke-linejoin="round"/>
<path d="M470.6 655.9L471.3 659.6L471.3 669.3L470.6 665.6Z" fill="#e2e2e2" stroke="#222" stroke-width="0.5" stroke-linejoin="round"/>
<path d="M474.4 655.6L475.3 659.4L471.3 659.6L470.6 655.9Z" fill="#fafafa" stroke="#222" stroke-width="0.55" stroke-linejoin="round"/>
<path d="M475.3 659.4L471.3 659.6L471.3 668.1Q473.3 670.6 475.3 667.9Z" fill="#fff" stroke="#222" stroke-width="0.6" stroke-linejoin="round"/>
<path d="M448.7 656L448.1 659.7L448.1 669.4L448.7 665.7Z" fill="#e2e2e2" stroke="#222" stroke-width="0.5" stroke-linejoin="round"/>
<path d="M444.9 655.7L444.1 659.5L444.1 669.2L444.9 665.4Z" fill="#e2e2e2" stroke="#222" stroke-width="0.5" stroke-linejoin="round"/>
<path d="M448.7 656L448.1 659.7L444.1 659.5L444.9 655.7Z" fill="#fafafa" stroke="#222" stroke-width="0.55" stroke-linejoin="round"/>
<path d="M448.1 659.7L444.1 659.5L444.1 668Q446.1 670.7 448.1 668.2Z" fill="#fff" stroke="#222" stroke-width="0.6" stroke-linejoin="round"/>
<path d="M468 656L468.6 659.8L468.6 669.5L468 665.7Z" fill="#e2e2e2" stroke="#222" stroke-width="0.5" stroke-linejoin="round"/>
<path d="M464.2 656.1L464.5 659.9L464.5 669.6L464.2 665.8Z" fill="#e2e2e2" stroke="#222" stroke-width="0.5" stroke-linejoin="round"/>
<path d="M468 656L468.6 659.8L464.5 659.9L464.2 656.1Z" fill="#fafafa" stroke="#222" stroke-width="0.55" stroke-linejoin="round"/>
<path d="M468.6 659.8L464.5 659.9L464.5 668.4Q466.5 670.9 468.6 668.3Z" fill="#fff" stroke="#222" stroke-width="0.6" stroke-linejoin="round"/>
<path d="M455.2 656.2L454.9 660L454.9 669.7L455.2 665.9Z" fill="#e2e2e2" stroke="#222" stroke-width="0.5" stroke-linejoin="round"/>
<path d="M451.3 656.1L450.9 659.9L450.9 669.6L451.3 665.8Z" fill="#e2e2e2" stroke="#222" stroke-width="0.5" stroke-linejoin="round"/>
<path d="M455.2 656.2L454.9 660L450.9 659.9L451.3 656.1Z" fill="#fafafa" stroke="#222" stroke-width="0.55" stroke-linejoin="round"/>
<path d="M454.9 660L450.9 659.9L450.9 668.4Q452.9 671 454.9 668.5Z" fill="#fff" stroke="#222" stroke-width="0.6" stroke-linejoin="round"/>
<path d="M461.6 656.2L461.8 660L461.8 669.7L461.6 665.9Z" fill="#e2e2e2" stroke="#222" stroke-width="0.5" stroke-linejoin="round"/>
<path d="M457.7 656.2L457.7 660L457.7 669.7L457.7 665.9Z" fill="#e2e2e2" stroke="#222" stroke-width="0.5" stroke-linejoin="round"/>
<path d="M461.6 656.2L461.8 660L457.7 660L457.7 656.2Z" fill="#fafafa" stroke="#222" stroke-width="0.55" stroke-linejoin="round"/>
<path d="M461.8 660L457.7 660L457.7 668.5Q459.7 671.1 461.8 668.5Z" fill="#fff" stroke="#222" stroke-width="0.6" stroke-linejoin="round"/>
<path d="M350 577.5L350.4 572L351.7 566.5L353.8 561.1L356.7 555.8L360.4 550.7L364.8 545.8L370 541.1L375.9 536.7L382.4 532.6L389.5 528.9L397.1 525.5L405.2 522.5L413.8 519.9L422.7 517.8L431.9 516.2L441.3 515L450.9 514.2L460.5 514L470.1 514.2L479.7 515L489.1 516.2L498.3 517.8L507.2 519.9L515.8 522.5L523.9 525.5L531.5 528.9L538.6 532.6L545.1 536.7L551 541.1L556.2 545.8L560.6 550.7L564.3 555.8L567.2 561.1L569.3 566.5L570.6 572L571 577.5L572.5 591.9L572.2 596.1L571.5 600.3L570.3 604.4L568.6 608.5L566.4 612.6L563.8 616.5L560.7 620.3L557.2 624L553.3 627.6L549 631L544.2 634.3L539.1 637.4L533.7 640.2L528 642.9L521.9 645.4L515.6 647.6L509 649.6L502.3 651.3L495.3 652.8L488.2 654L480.9 655L473.6 655.6L466.2 656.1L458.8 656.2L451.3 656.1L443.9 655.6L436.6 655L429.3 654L422.2 652.8L415.2 651.3L408.5 649.6L401.9 647.6L395.6 645.4L389.5 642.9L383.8 640.2L378.4 637.4L373.3 634.3L368.5 631L364.2 627.6L360.3 624L356.8 620.3L353.7 616.5L351.1 612.6L348.9 608.5L347.2 604.4L346 600.3L345.3 596.1L345.1 591.9Z" fill="#fff" stroke="none"/>
<path class="g" d="M571.3 583L571.6 584.2L571.9 585.5L572.1 586.7L572.2 588L572.4 589.2L572.4 590.5L572.4 591.8L572.4 593L572.4 594.3L572.3 595.5L572.1 596.8L571.9 598.1L571.7 599.3L571.4 600.6L571.1 601.8L570.7 603.1L570.3 604.3L569.9 605.5L569.4 606.8L568.8 608L568.2 609.2L567.6 610.4L567 611.6L566.3 612.8L565.5 614L564.7 615.2L563.9 616.4L563 617.5L562.1 618.7L561.2 619.8L560.2 621L559.1 622.1"/>
<path class="g" d="M358.4 622.1L357.3 621L356.3 619.8L355.4 618.7L354.5 617.5L353.6 616.4L352.8 615.2L352 614L351.2 612.8L350.5 611.6L349.9 610.4L349.3 609.2L348.7 608L348.1 606.8L347.6 605.5L347.2 604.3L346.8 603.1L346.4 601.8L346.1 600.6L345.8 599.3L345.6 598.1L345.4 596.8L345.2 595.5L345.1 594.3L345.1 593L345.1 591.8L345.1 590.5L345.1 589.2L345.3 588L345.4 586.7L345.6 585.5L345.9 584.2L346.2 583"/>
<ellipse class="kf" cx="460.5" cy="580" rx="110.7" ry="64"/>
<ellipse class="kf" cx="460.5" cy="578" rx="108.3" ry="63"/>
<ellipse class="k" cx="459" cy="570" rx="69.5" ry="39.7"/>
<ellipse class="g" cx="459" cy="570.3" rx="66.3" ry="37.7" style="stroke:#333"/>
<path class="kf" d="M381.3 542.6L382.8 541.3L384.5 540.1L386.2 538.9L388 537.7L389.8 536.5L391.7 535.4L393.7 534.3L395.7 533.3L397.7 532.2L399.8 531.3L402 530.3L404.2 529.4L406.4 528.5L408.7 527.6L411 526.8L413.4 526.1L417.9 525.3L422.4 525.5L426 526.8L428.3 528.8L429.1 531.2L428.5 533.5L426.7 535.4L423.8 536.8L422 537.4L420.2 538L418.4 538.7L416.7 539.4L415 540.1L413.3 540.8L411.7 541.6L410.1 542.4L408.5 543.2L407 544.1L405.6 544.9L404.1 545.8L402.8 546.7L401.4 547.7L400.1 548.6L398.9 549.6L396.2 551.1L392.6 551.9L388.5 552L384.5 551.3L381.2 549.8L379.4 547.6L379.4 545Z"/>
<path class="g" d="M383.6 543.9L385 542.8L386.6 541.7L388.2 540.6L389.8 539.6L391.5 538.5L393.2 537.5L395 536.5L396.8 535.6L398.6 534.6L400.5 533.7L402.5 532.9L404.5 532L406.5 531.2L408.5 530.4L410.6 529.7L412.8 529L416.5 528.2L420.2 528.4L423.4 529.4L425.4 531.1L426.2 533.1L425.8 535L424.3 536.7L421.9 538L420.2 538.5L418.5 539.1L416.8 539.8L415.2 540.4L413.6 541.1L412 541.8L410.5 542.5L409 543.3L407.5 544.1L406.1 544.9L404.7 545.7L403.3 546.5L402 547.4L400.7 548.2L399.5 549.1L398.3 550L396 551.3L392.8 552L389.3 552L386 551.4L383.3 550L381.9 548.1L381.9 546Z" style="stroke:#333"/>
<path class="kf" d="M460 519.2L462.7 519.2L465.5 519.3L468.2 519.4L470.9 519.5L473.6 519.7L476.3 520L479 520.3L481.6 520.6L484.3 521L486.9 521.4L489.5 521.8L492.1 522.3L494.6 522.9L497.2 523.5L499.7 524.1L502.1 524.7L505.9 526.4L508 528.6L508.3 531.1L506.8 533.3L503.9 535L500.2 536.1L496.3 536.3L492.7 535.8L490.8 535.3L488.8 534.8L486.9 534.3L484.9 533.9L482.9 533.5L480.9 533.2L478.8 532.9L476.8 532.6L474.7 532.3L472.6 532.1L470.5 531.9L468.4 531.7L466.3 531.6L464.2 531.5L462.1 531.5L460 531.5L456.4 531.1L453.1 529.9L450.5 528L449.3 525.7L449.6 523.3L451.7 521.2L455.4 519.7Z"/>
<path class="g" d="M461.6 521.7L464.1 521.8L466.6 521.9L469.1 522L471.5 522.1L474 522.3L476.4 522.6L478.8 522.8L481.3 523.1L483.7 523.5L486 523.8L488.4 524.2L490.8 524.7L493.1 525.1L495.4 525.7L497.7 526.2L499.9 526.8L503.1 528.1L505 530L505.3 532L504.1 533.9L501.7 535.4L498.7 536.4L495.3 536.6L492.2 536.2L490.4 535.7L488.6 535.3L486.7 534.9L484.8 534.5L482.9 534.1L481 533.8L479.1 533.5L477.2 533.2L475.2 533L473.2 532.8L471.3 532.6L469.3 532.5L467.3 532.3L465.3 532.2L463.3 532.2L461.3 532.1L458.2 531.7L455.4 530.7L453.4 529.1L452.4 527.1L452.8 525.1L454.7 523.3L457.8 522.1Z" style="stroke:#333"/>
<path class="kf" d="M538.7 605.4L537.3 606.6L535.8 607.7L534.2 608.9L532.6 610L530.9 611L529.2 612.1L527.4 613.1L525.6 614.1L523.7 615.1L521.8 616L519.8 616.9L517.9 617.8L515.8 618.6L513.8 619.4L511.7 620.2L509.5 621L505.1 621.9L500.6 621.7L496.9 620.5L494.4 618.5L493.5 616.2L493.9 613.9L495.7 611.9L498.4 610.5L500.1 609.9L501.7 609.3L503.3 608.6L504.9 608L506.4 607.3L507.9 606.6L509.4 605.8L510.9 605.1L512.3 604.3L513.7 603.5L515 602.7L516.3 601.9L517.6 601L518.8 600.2L520 599.3L521.1 598.4L523.8 596.9L527.4 596.1L531.5 596L535.5 596.7L538.8 598.2L540.6 600.4L540.6 603Z"/>
<path class="g" d="M536.4 607.3L535.1 608.3L533.7 609.3L532.2 610.3L530.8 611.3L529.2 612.2L527.7 613.2L526.1 614.1L524.4 615L522.8 615.9L521 616.7L519.3 617.5L517.5 618.3L515.7 619.1L513.9 619.9L512 620.6L510.1 621.3L506.4 622.1L502.6 622L499.4 621L497.3 619.4L496.3 617.4L496.7 615.4L498.1 613.7L500.4 612.5L501.9 611.9L503.5 611.3L505 610.7L506.4 610.1L507.9 609.4L509.3 608.8L510.6 608.1L512 607.4L513.3 606.7L514.6 605.9L515.9 605.2L517.1 604.4L518.3 603.6L519.5 602.8L520.6 602L521.7 601.2L524 599.9L527.2 599.2L530.7 599.2L534 599.8L536.7 601.2L538.1 603.1L538.1 605.2Z" style="stroke:#333"/>
<path class="kf" d="M458.3 628.8L455.2 628.7L452 628.6L448.9 628.4L445.8 628.2L442.7 627.9L439.6 627.6L436.5 627.2L433.5 626.7L430.5 626.2L427.5 625.6L424.6 625L421.7 624.3L418.8 623.5L416 622.7L413.2 621.9L410.5 621L407 619.2L405.2 616.8L405.3 614.4L407.2 612.2L410.3 610.7L414.2 609.8L418.1 609.7L421.6 610.5L423.7 611.1L425.8 611.8L428 612.4L430.3 613L432.5 613.5L434.8 614L437.1 614.5L439.4 614.9L441.8 615.2L444.2 615.6L446.6 615.8L449 616.1L451.4 616.2L453.8 616.4L456.3 616.5L458.7 616.5L462.3 617L465.6 618.2L468 620.1L469.3 622.4L468.9 624.8L466.7 626.9L462.9 628.3Z"/>
<path class="g" d="M456.7 629.4L453.8 629.3L450.9 629.2L448.1 629L445.2 628.8L442.4 628.5L439.6 628.2L436.7 627.8L434 627.4L431.2 626.9L428.5 626.4L425.8 625.8L423.1 625.2L420.4 624.5L417.8 623.8L415.3 623L412.8 622.2L409.8 620.8L408.2 618.8L408.2 616.8L409.7 614.9L412.3 613.5L415.5 612.8L418.8 612.7L421.9 613.2L423.9 613.9L426 614.5L428.1 615.1L430.2 615.6L432.4 616.1L434.5 616.6L436.8 617L439 617.4L441.2 617.7L443.5 618L445.8 618.3L448.1 618.5L450.4 618.7L452.7 618.9L455 619L457.3 619L460.5 619.5L463.2 620.6L465.2 622.2L466.1 624.1L465.7 626.2L463.7 627.9L460.6 629.1Z" style="stroke:#333"/>
<path class="kf" d="M372.9 597.2L371.9 595.9L370.9 594.6L370.1 593.4L369.2 592.1L368.5 590.8L367.8 589.5L367.1 588.1L366.5 586.8L366 585.5L365.5 584.1L365.1 582.8L364.7 581.4L364.4 580L364.2 578.7L364 577.3L363.9 575.9L364.7 573.3L367.2 571.1L370.8 569.8L375 569.6L379 570.2L382.4 571.6L384.6 573.4L385.5 575.5L385.5 576.5L385.7 577.6L385.9 578.7L386.1 579.7L386.4 580.8L386.7 581.8L387.1 582.9L387.5 583.9L387.9 585L388.4 586L389 587L389.6 588L390.2 589L390.9 590L391.6 591L392.4 592L393.3 594L392.7 596.2L390.9 598.3L387.8 600L383.9 600.8L379.6 600.6L375.7 599.3Z"/>
<path class="g" d="M373.7 597.5L372.8 596.4L372 595.2L371.3 594.1L370.5 592.9L369.9 591.7L369.2 590.6L368.7 589.4L368.1 588.2L367.7 587L367.2 585.8L366.8 584.5L366.5 583.3L366.2 582.1L366 580.9L365.8 579.7L365.7 578.4L366.2 576.2L368.2 574.4L371.2 573.3L374.8 573L378.2 573.4L381.1 574.6L383.1 576.1L383.9 577.9L384 578.9L384.1 579.9L384.3 580.9L384.5 581.8L384.8 582.8L385.1 583.8L385.5 584.8L385.9 585.7L386.3 586.7L386.8 587.7L387.3 588.6L387.8 589.6L388.4 590.5L389 591.4L389.7 592.4L390.3 593.3L391.1 595.1L390.5 596.9L388.8 598.7L386.2 600L382.8 600.7L379.2 600.4L376 599.3Z" style="stroke:#333"/>
<ellipse class="kf" cx="435.2" cy="523.8" rx="11.8" ry="7.3"/>
<path class="k" d="M444.6 523L445 523.7L445.3 524.4L445.5 525.1L445.5 525.8L445.3 526.5L445 527.1L444.5 527.8L443.9 528.4L443.2 529L442.3 529.5L441.4 529.9L440.3 530.3L439.2 530.6L438 530.8L436.8 531L435.5 531L434.2 531L433 530.8L431.8 530.6L430.7 530.3L429.6 529.9L428.7 529.5L427.8 529L427.1 528.4L426.5 527.8L426 527.1L425.7 526.5L425.5 525.8L425.5 525.1L425.7 524.4L426 523.7L426.4 523"/>
<path class="g" d="M425.1 522.2L425.4 521.8L425.7 521.3L426.2 520.9L426.6 520.5L427.2 520.1L427.7 519.8L428.3 519.5L429 519.2L429.7 518.9L430.4 518.7L431.2 518.5L432 518.3L432.7 518.2L433.6 518.1L434.4 518L435.2 518L436 518L436.8 518.1L437.7 518.2L438.4 518.3L439.2 518.5L440 518.7L440.7 518.9L441.4 519.2L442.1 519.5L442.7 519.8L443.2 520.1L443.8 520.5L444.2 520.9L444.7 521.3L445 521.8L445.3 522.2"/>
<ellipse class="kf" cx="545.5" cy="587.5" rx="11.8" ry="7.3"/>
<path class="k" d="M554.9 586.7L555.3 587.4L555.6 588.1L555.8 588.8L555.8 589.5L555.6 590.2L555.3 590.8L554.8 591.5L554.2 592.1L553.5 592.7L552.6 593.2L551.7 593.6L550.6 594L549.5 594.3L548.3 594.5L547.1 594.7L545.8 594.7L544.5 594.7L543.3 594.5L542.1 594.3L541 594L539.9 593.6L539 593.2L538.1 592.7L537.4 592.1L536.8 591.5L536.3 590.8L536 590.2L535.8 589.5L535.8 588.8L536 588.1L536.3 587.4L536.7 586.7"/>
<path class="g" d="M535.4 585.9L535.7 585.5L536 585L536.5 584.6L536.9 584.2L537.5 583.8L538 583.5L538.6 583.2L539.3 582.9L540 582.6L540.7 582.4L541.5 582.2L542.3 582L543 581.9L543.9 581.8L544.7 581.7L545.5 581.7L546.3 581.7L547.1 581.8L548 581.9L548.7 582L549.5 582.2L550.3 582.4L551 582.6L551.7 582.9L552.4 583.2L553 583.5L553.5 583.8L554.1 584.2L554.5 584.6L555 585L555.3 585.5L555.6 585.9"/>
<ellipse class="kf" cx="394.5" cy="610.3" rx="11.8" ry="7.3"/>
<path class="k" d="M403.9 609.5L404.3 610.2L404.6 610.9L404.8 611.6L404.8 612.3L404.6 613L404.3 613.6L403.8 614.3L403.2 614.9L402.5 615.5L401.6 616L400.7 616.4L399.6 616.8L398.5 617.1L397.3 617.3L396.1 617.5L394.8 617.5L393.5 617.5L392.3 617.3L391.1 617.1L390 616.8L388.9 616.4L388 616L387.1 615.5L386.4 614.9L385.8 614.3L385.3 613.6L385 613L384.8 612.3L384.8 611.6L385 610.9L385.3 610.2L385.7 609.5"/>
<path class="g" d="M384.4 608.7L384.7 608.3L385 607.8L385.5 607.4L385.9 607L386.5 606.6L387 606.3L387.6 606L388.3 605.7L389 605.4L389.7 605.2L390.5 605L391.3 604.8L392 604.7L392.9 604.6L393.7 604.5L394.5 604.5L395.3 604.5L396.1 604.6L397 604.7L397.7 604.8L398.5 605L399.3 605.2L400 605.4L400.7 605.7L401.4 606L402 606.3L402.5 606.6L403.1 607L403.5 607.4L404 607.8L404.3 608.3L404.6 608.7"/>
<ellipse class="k" cx="433.2" cy="539.6" rx="5.3" ry="3.2"/>
<ellipse class="k" cx="484.5" cy="602.9" rx="5.3" ry="3.2"/>
<path class="kf" d="M452.8 548 L454.5 541 Q455.5 541.8 463 541.8 Q471 541.8 472.2 546 L473 550Z"/>
<path class="kf" d="M453 546 L454.7 539 Q456 535.6 463 535.6 Q470.5 535.8 472 540 L473 546.5Z"/>
<ellipse class="k" cx="463" cy="540.3" rx="3" ry="1.8"/>
<path class="kf" d="M436.5 569.7 L418.3 571.4 Q412.8 570 412.5 565 L412.5 560.6 L436 560Z"/>
<path class="kf" d="M436.5 554.8 L417.4 554.5 Q412.3 556 412.5 560.6 Q413 565.6 417.4 565.6 L435.6 563.9Z"/>
<ellipse class="k" cx="422.9" cy="558.1" rx="1.8" ry="1.2"/>
<path class="kf" d="M482 574.7 L500.3 575.5 Q504.6 573.5 504.4 569.7 L504.4 566 L482 563Z"/>
<path class="kf" d="M482 557.3 L500.3 562.3 Q504.8 564 504.4 567.2 Q503.8 572 499.4 572.2 L482.5 568.9Z"/>
<path class="kf" d="M435.6 559.4L435.8 557.6L436.4 555.9L437.4 554.2L438.7 552.5L440.4 551.1L442.5 549.7L444.8 548.5L447.3 547.5L450 546.7L452.9 546.2L455.9 545.8L459 545.7L462.1 545.8L465.1 546.2L468 546.7L470.7 547.5L473.2 548.5L475.5 549.7L477.6 551.1L479.3 552.5L480.6 554.2L481.6 555.9L482.2 557.6L482.4 559.4L482.4 567.9L482.2 569.7L481.6 571.4L480.6 573.1L479.3 574.8L477.6 576.2L475.5 577.6L473.2 578.8L470.7 579.8L468 580.6L465.1 581.1L462.1 581.5L459 581.6L455.9 581.5L452.9 581.1L450 580.6L447.3 579.8L444.8 578.8L442.5 577.6L440.4 576.2L438.7 574.8L437.4 573.1L436.4 571.4L435.8 569.7L435.6 567.9Z"/>
<ellipse class="kf" cx="459" cy="559.4" rx="23.4" ry="13.7"/>
<path class="kf" d="M444.4 584 L444.4 590.4 Q446 595.4 453.9 595.4 Q462.5 595.2 463.3 591.3 L463.5 584Z"/>
<path d="M445.8 571.5 L444.4 586.3 Q446 590.4 453.9 590.4 Q462 590.4 463 587.1 L463.9 572.6 Q455 574.2 445.8 571.5Z" fill="#fff" stroke="none"/>
<path class="k" d="M445.8 571.8 L444.4 586.3 Q446 590.4 453.9 590.4 Q462 590.4 463 587.1 L463.9 572.8"/>
<ellipse class="k" cx="453.9" cy="582.2" rx="3.4" ry="2"/>
<ellipse class="k" cx="458.3" cy="559.4" rx="10.5" ry="7"/>
<path class="k" d="M449.5 563.2L447.8 565L449.8 566.2L451.5 564.6"/>
<path class="kf" d="M344.6 563.5 L353.8 561.4 L373.7 599.5 L372.5 620.2 L368 623.3 L376 636.8 L377.6 619.4 L364.1 623.3 Q347.5 603 345.9 578 Z"/>
<path class="kf" d="M344.6 563.5 L353.8 561.4 L373.7 599.5 L364.1 601.1 Z"/>
<path class="k" d="M364.1 601.1 V623.3 M372.5 599.5 V620.2"/>
<path class="k" d="M344.6 563.5 L345.9 578 Q347.5 603 364.1 623.3"/>
<path class="k" d="M348.6 584.5 L349.3 593.5 L360.5 615 L360.5 603.5Z"/>
<path class="k" d="M359 606 Q356.5 609 359 614.5 Q362 617 363.5 612 Q363.5 607 359 606Z"/>
<path class="kf" d="M368 623.3 L372.5 620.2 L377.6 619.4 L376 636.8Z"/>
<path class="kf" d="M357 566 Q362 561 374 563.5 Q384 566.5 383.5 574 L395 596 Q394 603 387 603 L380 601.5 L366 577Z"/>
<path class="g" d="M366.5 570.5 Q370 566 376 567.5 Q381 570 379.5 575 L390 596.5 M368 575.5 L381 599" style="stroke:#333"/>
<ellipse class="g" cx="373.5" cy="570.5" rx="5.2" ry="3.4" style="stroke:#333"/>
<path class="k" d="M374.7 603.5 L386 608"/>
</g>
<g id="p6">
<path class="kf" d="M440.2 709.5 Q440.6 708.3 441.6 708.5 L444.2 709.8 Q448.6 711.5 448.9 715 Q448.6 719.5 443.6 723.2 L440.5 720.8 Z"/>
<path class="k" d="M444.2 709.8 L444 722.8"/>
<path class="g" d="M441.6 708.5 L441.8 721.6"/>
</g>
<g id="p3">
<path d="M417.3 759 L417.3 775.5 Q419.9 779.5 422.5 775.5 L422.5 759Z" fill="#a8a8a8" stroke="#222" stroke-width="1"/>
<path class="g" d="M419 760V776M420.8 760V776" style="stroke:#ddd;stroke-width:0.6"/>
<path class="kf" d="M414.6 756.6 Q414.6 758.9 416.5 759.3 L423.3 759.3 Q425.2 758.9 425.2 756.6Z"/>
<ellipse class="kf" cx="419.9" cy="755.6" rx="5.3" ry="3.2"/>
<path class="g" d="M416.2 755 L417.8 753.2 L422 753.2 L423.6 755 L422 757 L417.8 757Z"/>
</g>
<g id="p2">
<path class="kf" d="M497 812.2 L518.4 799.3 Q521.6 799.8 521.4 803.8 L500 816.5Z"/>
<ellipse class="k" cx="519.9" cy="801.6" rx="1.5" ry="2.5" transform="rotate(28 519.9 801.6)"/>
<path class="kf" d="M449.6 798.2L453.7 797.9L457.8 797.7L461.9 797.7L461.9 804.7L457.8 804.7L453.7 804.9L449.6 805.2Z"/><path class="kf" d="M461.6 804.5L461.9 797.7L461.9 804.7L461.6 811.5Z"/><path class="kf" d="M451.7 805L449.6 798.2L449.6 805.2L451.7 812Z"/><path class="kf" d="M461.6 804.5L458.3 804.5L455 804.7L451.7 805L451.7 812L455 811.7L458.3 811.5L461.6 811.5Z"/><path class="kf" d="M449.6 798.2L453.7 797.9L457.8 797.7L461.9 797.7L461.6 804.5L458.3 804.5L455 804.7L451.7 805Z"/><path class="g" d="M451 802.7L461.7 802.2M450.3 800.5L461.8 800"/><path class="kf" d="M446.1 793.4L452 792.8L458 792.6L464 792.6L464 804.1L458 804.1L452 804.3L446.1 804.9Z"/><path class="kf" d="M463.5 798.4L464 792.6L464 804.1L463.5 809.9Z"/><path class="kf" d="M448.2 799.1L446.1 793.4L446.1 804.9L448.2 810.6Z"/><path class="kf" d="M463.5 798.4L458.4 798.4L453.2 798.6L448.2 799.1L448.2 810.6L453.2 810.1L458.4 809.9L463.5 809.9Z"/><path class="kf" d="M446.1 793.4L452 792.8L458 792.6L464 792.6L463.5 798.4L458.4 798.4L453.2 798.6L448.2 799.1Z"/>
<path class="kf" d="M470.8 798.2L474.8 798.6L478.8 799.3L482.7 800L482.7 807L478.8 806.3L474.8 805.6L470.8 805.2Z"/><path class="kf" d="M468.8 804.9L470.8 798.2L470.8 805.2L468.8 811.9Z"/><path class="kf" d="M478.3 806.4L482.7 800L482.7 807L478.3 813.4Z"/><path class="kf" d="M478.3 806.4L475.2 805.8L472 805.3L468.8 804.9L468.8 811.9L472 812.3L475.2 812.8L478.3 813.4Z"/><path class="kf" d="M470.8 798.2L474.8 798.6L478.8 799.3L482.7 800L478.3 806.4L475.2 805.8L472 805.3L468.8 804.9Z"/><path class="g" d="M469.4 802.7L479.8 804.3M470.1 800.4L481.2 802.2"/><path class="kf" d="M470.4 792.9L476.3 793.6L482.1 794.5L487.7 795.7L487.7 807.2L482.1 806L476.3 805.1L470.4 804.4Z"/><path class="kf" d="M468.9 798.7L470.4 792.9L470.4 804.4L468.9 810.2Z"/><path class="kf" d="M483.8 801L487.7 795.7L487.7 807.2L483.8 812.5Z"/><path class="kf" d="M483.8 801L478.9 800L474 799.2L468.9 798.7L468.9 810.2L474 810.7L478.9 811.5L483.8 812.5Z"/><path class="kf" d="M470.4 792.9L476.3 793.6L482.1 794.5L487.7 795.7L483.8 801L478.9 800L474 799.2L468.9 798.7Z"/>
<path class="kf" d="M429.7 802.4L433.3 801.3L437.1 800.3L440.9 799.5L440.9 806.5L437.1 807.3L433.3 808.3L429.7 809.4Z"/><path class="kf" d="M444.8 806L440.9 799.5L440.9 806.5L444.8 813Z"/><path class="kf" d="M435.8 808.3L429.7 802.4L429.7 809.4L435.8 815.3Z"/><path class="kf" d="M444.8 806L441.7 806.7L438.7 807.4L435.8 808.3L435.8 815.3L438.7 814.4L441.7 813.7L444.8 813Z"/><path class="kf" d="M429.7 802.4L433.3 801.3L437.1 800.3L440.9 799.5L444.8 806L441.7 806.7L438.7 807.4L435.8 808.3Z"/><path class="g" d="M433.8 806.4L443.5 803.8M431.7 804.4L442.2 801.7"/><path class="kf" d="M423.5 798.6L428.8 796.9L434.2 795.4L439.9 794.3L439.9 805.8L434.2 806.9L428.8 808.4L423.5 810.1Z"/><path class="kf" d="M442.9 799.9L439.9 794.3L439.9 805.8L442.9 811.4Z"/><path class="kf" d="M428.9 803.5L423.5 798.6L423.5 810.1L428.9 815Z"/><path class="kf" d="M442.9 799.9L438.1 800.8L433.4 802.1L428.9 803.5L428.9 815L433.4 813.6L438.1 812.3L442.9 811.4Z"/><path class="kf" d="M423.5 798.6L428.8 796.9L434.2 795.4L439.9 794.3L442.9 799.9L438.1 800.8L433.4 802.1L428.9 803.5Z"/>
<path class="kf" d="M490.7 802.2L494.2 803.5L497.6 804.8L500.8 806.3L500.8 813.3L497.6 811.8L494.2 810.5L490.7 809.2Z"/><path class="kf" d="M484.8 808.2L490.7 802.2L490.7 809.2L484.8 815.2Z"/><path class="kf" d="M492.8 811.5L500.8 806.3L500.8 813.3L492.8 818.5Z"/><path class="kf" d="M492.8 811.5L490.3 810.3L487.6 809.2L484.8 808.2L484.8 815.2L487.6 816.2L490.3 817.3L492.8 818.5Z"/><path class="kf" d="M490.7 802.2L494.2 803.5L497.6 804.8L500.8 806.3L492.8 811.5L490.3 810.3L487.6 809.2L484.8 808.2Z"/><path class="g" d="M486.8 806.2L495.5 809.8M488.7 804.2L498.1 808"/><path class="kf" d="M488.7 802.4L493.5 797.2L493.5 808.7L488.7 813.9Z"/><path class="kf" d="M493.5 797.2L498.7 799L503.6 801L508.2 803.2L508.2 814.7L503.6 812.5L498.7 810.5L493.5 808.7Z"/><path class="kf" d="M501.2 807.5L497.3 805.6L493.1 803.9L488.7 802.4L488.7 813.9L493.1 815.4L497.3 817.1L501.2 819Z"/><path class="kf" d="M501.2 807.5L508.2 803.2L508.2 814.7L501.2 819Z"/><path class="kf" d="M493.5 797.2L498.7 799L503.6 801L508.2 803.2L501.2 807.5L497.3 805.6L493.1 803.9L488.7 802.4Z"/>
<path class="kf" d="M413.6 810.3L416.3 808.5L419.2 806.8L422.4 805.3L422.4 812.3L419.2 813.8L416.3 815.5L413.6 817.3Z"/><path class="kf" d="M429.9 810.7L422.4 805.3L422.4 812.3L429.9 817.7Z"/><path class="kf" d="M422.8 814.6L413.6 810.3L413.6 817.3L422.8 821.6Z"/><path class="kf" d="M429.9 810.7L427.4 811.9L425 813.2L422.8 814.6L422.8 821.6L425 820.2L427.4 818.9L429.9 817.7Z"/><path class="kf" d="M413.6 810.3L416.3 808.5L419.2 806.8L422.4 805.3L429.9 810.7L427.4 811.9L425 813.2L422.8 814.6Z"/><path class="g" d="M419.7 813.2L427.4 808.9M416.6 811.7L424.9 807.1"/><path class="kf" d="M424.4 805.3L418.3 800.6L418.3 812.1L424.4 816.8Z"/><path class="kf" d="M405.4 807.8L409.3 805.2L413.6 802.8L418.3 800.6L418.3 812.1L413.6 814.3L409.3 816.7L405.4 819.3Z"/><path class="kf" d="M424.4 805.3L420.5 807.1L416.8 809.2L413.4 811.4L413.4 822.9L416.8 820.7L420.5 818.6L424.4 816.8Z"/><path class="kf" d="M413.4 811.4L405.4 807.8L405.4 819.3L413.4 822.9Z"/><path class="kf" d="M405.4 807.8L409.3 805.2L413.6 802.8L418.3 800.6L424.4 805.3L420.5 807.1L416.8 809.2L413.4 811.4Z"/>
<path class="kf" d="M497.9 814.4L507 810L507 817L497.9 821.4Z"/><path class="kf" d="M507 810L509.6 811.8L511.9 813.8L514 815.8L514 822.8L511.9 820.8L509.6 818.8L507 817Z"/><path class="kf" d="M503.5 819.1L501.8 817.4L499.9 815.9L497.9 814.4L497.9 821.4L499.9 822.9L501.8 824.4L503.5 826.1Z"/><path class="kf" d="M503.5 819.1L514 815.8L514 822.8L503.5 826.1Z"/><path class="kf" d="M507 810L509.6 811.8L511.9 813.8L514 815.8L503.5 819.1L501.8 817.4L499.9 815.9L497.9 814.4Z"/><path class="g" d="M500.9 812.9L507 818M504 811.4L510.5 816.9"/><path class="kf" d="M505 809.7L512.6 805.8L512.6 817.3L505 821.2Z"/><path class="kf" d="M512.6 805.8L516.4 808.5L519.8 811.3L522.8 814.3L522.8 825.8L519.8 822.8L516.4 820L512.6 817.3Z"/><path class="kf" d="M513.7 816.9L511.2 814.4L508.3 812L505 809.7L505 821.2L508.3 823.5L511.2 825.9L513.7 828.4Z"/><path class="kf" d="M513.7 816.9L522.8 814.3L522.8 825.8L513.7 828.4Z"/><path class="kf" d="M512.6 805.8L516.4 808.5L519.8 811.3L522.8 814.3L513.7 816.9L511.2 814.4L508.3 812L505 809.7Z"/>
<path class="kf" d="M418.6 818L408.4 814.4L408.4 821.4L418.6 825Z"/><path class="kf" d="M403.1 820.8L404.6 818.6L406.4 816.5L408.4 814.4L408.4 821.4L406.4 823.5L404.6 825.6L403.1 827.8Z"/><path class="kf" d="M418.6 818L417 819.6L415.6 821.3L414.4 823.1L414.4 830.1L415.6 828.3L417 826.6L418.6 825Z"/><path class="kf" d="M414.4 823.1L403.1 820.8L403.1 827.8L414.4 830.1Z"/><path class="kf" d="M403.1 820.8L404.6 818.6L406.4 816.5L408.4 814.4L418.6 818L417 819.6L415.6 821.3L414.4 823.1Z"/><path class="g" d="M410.6 822.3L415.2 816.8M406.8 821.5L411.8 815.6"/><path class="kf" d="M410.3 814L401.7 810.8L401.7 822.3L410.3 825.5Z"/><path class="kf" d="M394 820.1L396.1 816.9L398.7 813.8L401.7 810.8L401.7 822.3L398.7 825.3L396.1 828.4L394 831.6Z"/><path class="kf" d="M410.3 814L407.7 816.5L405.5 819.1L403.7 821.9L403.7 833.4L405.5 830.6L407.7 828L410.3 825.5Z"/><path class="kf" d="M403.7 821.9L394 820.1L394 831.6L403.7 833.4Z"/><path class="kf" d="M394 820.1L396.1 816.9L398.7 813.8L401.7 810.8L410.3 814L407.7 816.5L405.5 819.1L403.7 821.9Z"/>
<path class="kf" d="M506.5 822.8L517.7 820.4L517.7 827.4L506.5 829.8Z"/><path class="kf" d="M517.7 820.4L519 822.6L520 824.9L520.8 827.2L520.8 834.2L520 831.9L519 829.6L517.7 827.4Z"/><path class="kf" d="M508.9 828.3L508.3 826.4L507.5 824.6L506.5 822.8L506.5 829.8L507.5 831.6L508.3 833.4L508.9 835.3Z"/><path class="kf" d="M508.9 828.3L520.8 827.2L520.8 834.2L508.9 835.3Z"/><path class="kf" d="M517.7 820.4L519 822.6L520 824.9L520.8 827.2L508.9 828.3L508.3 826.4L507.5 824.6L506.5 822.8Z"/><path class="g" d="M510.2 822L512.9 827.9M514 821.2L516.8 827.6"/><path class="kf" d="M516 819.8L525.4 817.6L525.4 829.1L516 831.3Z"/><path class="kf" d="M525.4 817.6L527.5 820.8L529 824.2L530 827.6L530 839.1L529 835.7L527.5 832.3L525.4 829.1Z"/><path class="kf" d="M519.8 828.3L519 825.4L517.7 822.5L516 819.8L516 831.3L517.7 834L519 836.9L519.8 839.8Z"/><path class="kf" d="M519.8 828.3L530 827.6L530 839.1L519.8 839.8Z"/><path class="kf" d="M525.4 817.6L527.5 820.8L529 824.2L530 827.6L519.8 828.3L519 825.4L517.7 822.5L516 819.8Z"/>
<path class="kf" d="M412.4 827L400.7 825.7L400.7 832.7L412.4 834Z"/><path class="kf" d="M399.5 832.7L399.6 830.3L400 828L400.7 825.7L400.7 832.7L400 835L399.6 837.3L399.5 839.7Z"/><path class="kf" d="M412.4 827L411.9 828.9L411.6 830.8L411.5 832.6L411.5 839.6L411.6 837.8L411.9 835.9L412.4 834Z"/><path class="kf" d="M411.5 832.6L399.5 832.7L399.5 839.7L411.5 839.6Z"/><path class="kf" d="M399.5 832.7L399.6 830.3L400 828L400.7 825.7L412.4 827L411.9 828.9L411.6 830.8L411.5 832.6Z"/><path class="g" d="M407.5 832.7L408.5 826.6M403.5 832.7L404.6 826.1"/><path class="kf" d="M402.2 824.9L392.3 823.6L392.3 835.1L402.2 836.4Z"/><path class="kf" d="M390.5 833.8L390.6 830.4L391.2 827L392.3 823.6L392.3 835.1L391.2 838.5L390.6 841.9L390.5 845.3Z"/><path class="kf" d="M402.2 824.9L401.3 827.8L400.8 830.7L400.7 833.6L400.7 845.1L400.8 842.2L401.3 839.3L402.2 836.4Z"/><path class="kf" d="M400.7 833.6L390.5 833.8L390.5 845.3L400.7 845.1Z"/><path class="kf" d="M390.5 833.8L390.6 830.4L391.2 827L392.3 823.6L402.2 824.9L401.3 827.8L400.8 830.7L400.7 833.6Z"/>
<path class="kf" d="M509.5 832.4L521.5 832.3L521.5 839.3L509.5 839.4Z"/><path class="kf" d="M508.6 838L509.1 836.1L509.4 834.2L509.5 832.4L509.5 839.4L509.4 841.2L509.1 843.1L508.6 845Z"/><path class="kf" d="M521.5 832.3L521.4 834.7L521 837L520.3 839.3L520.3 846.3L521 844L521.4 841.7L521.5 839.3Z"/><path class="kf" d="M508.6 838L520.3 839.3L520.3 846.3L508.6 845Z"/><path class="kf" d="M521.5 832.3L521.4 834.7L521 837L520.3 839.3L508.6 838L509.1 836.1L509.4 834.2L509.5 832.4Z"/><path class="g" d="M513.5 832.3L512.5 838.4M517.5 832.3L516.4 838.9"/><path class="kf" d="M520.3 831.4L530.5 831.2L530.5 842.7L520.3 842.9Z"/><path class="kf" d="M518.8 840.1L519.7 837.2L520.2 834.3L520.3 831.4L520.3 842.9L520.2 845.8L519.7 848.7L518.8 851.6Z"/><path class="kf" d="M530.5 831.2L530.4 834.6L529.8 838L528.7 841.4L528.7 852.9L529.8 849.5L530.4 846.1L530.5 842.7Z"/><path class="kf" d="M518.8 840.1L528.7 841.4L528.7 852.9L518.8 851.6Z"/><path class="kf" d="M530.5 831.2L530.4 834.6L529.8 838L528.7 841.4L518.8 840.1L519.7 837.2L520.2 834.3L520.3 831.4Z"/>
<path class="kf" d="M412.1 836.7L400.2 837.8L400.2 844.8L412.1 843.7Z"/><path class="kf" d="M412.1 836.7L412.7 838.6L413.5 840.4L414.5 842.2L414.5 849.2L413.5 847.4L412.7 845.6L412.1 843.7Z"/><path class="kf" d="M403.3 844.6L402 842.4L401 840.1L400.2 837.8L400.2 844.8L401 847.1L402 849.4L403.3 851.6Z"/><path class="kf" d="M414.5 842.2L403.3 844.6L403.3 851.6L414.5 849.2Z"/><path class="kf" d="M403.3 844.6L402 842.4L401 840.1L400.2 837.8L412.1 836.7L412.7 838.6L413.5 840.4L414.5 842.2Z"/><path class="g" d="M410.8 843L408.1 837.1M407 843.8L404.2 837.4"/><path class="kf" d="M401.2 836.7L391 837.4L391 848.9L401.2 848.2Z"/><path class="kf" d="M401.2 836.7L402 839.6L403.3 842.5L405 845.2L405 856.7L403.3 854L402 851.1L401.2 848.2Z"/><path class="kf" d="M395.6 847.4L393.5 844.2L392 840.8L391 837.4L391 848.9L392 852.3L393.5 855.7L395.6 858.9Z"/><path class="kf" d="M405 845.2L395.6 847.4L395.6 858.9L405 856.7Z"/><path class="kf" d="M395.6 847.4L393.5 844.2L392 840.8L391 837.4L401.2 836.7L402 839.6L403.3 842.5L405 845.2Z"/><path class="g" d="M394.6 848.2L393.3 845.9L392.2 843.5L391.4 841.1L391.4 847.9L392.2 850.3L393.3 852.7L394.6 855Z" style="stroke:#333"/>
<path class="kf" d="M506.6 841.9L517.9 844.2L517.9 851.2L506.6 848.9Z"/><path class="kf" d="M502.4 847L504 845.4L505.4 843.7L506.6 841.9L506.6 848.9L505.4 850.7L504 852.4L502.4 854Z"/><path class="kf" d="M517.9 844.2L516.4 846.4L514.6 848.5L512.6 850.6L512.6 857.6L514.6 855.5L516.4 853.4L517.9 851.2Z"/><path class="kf" d="M502.4 847L512.6 850.6L512.6 857.6L502.4 854Z"/><path class="kf" d="M517.9 844.2L516.4 846.4L514.6 848.5L512.6 850.6L502.4 847L504 845.4L505.4 843.7L506.6 841.9Z"/><path class="g" d="M510.4 842.7L505.8 848.2M514.2 843.5L509.2 849.4"/><path class="kf" d="M517.3 843.1L527 844.9L527 856.4L517.3 854.6Z"/><path class="kf" d="M510.7 851L513.3 848.5L515.5 845.9L517.3 843.1L517.3 854.6L515.5 857.4L513.3 860L510.7 862.5Z"/><path class="kf" d="M527 844.9L524.9 848.1L522.3 851.2L519.3 854.2L519.3 865.7L522.3 862.7L524.9 859.6L527 856.4Z"/><path class="kf" d="M510.7 851L519.3 854.2L519.3 865.7L510.7 862.5Z"/><path class="kf" d="M527 844.9L524.9 848.1L522.3 851.2L519.3 854.2L510.7 851L513.3 848.5L515.5 845.9L517.3 843.1Z"/><path class="g" d="M526.2 848.5L524.6 850.8L522.7 853L520.6 855.2L520.6 862L522.7 859.8L524.6 857.6L526.2 855.3Z" style="stroke:#333"/>
<path class="kf" d="M417.5 845.9L407 849.2L407 856.2L417.5 852.9Z"/><path class="kf" d="M417.5 845.9L419.2 847.6L421.1 849.1L423.1 850.6L423.1 857.6L421.1 856.1L419.2 854.6L417.5 852.9Z"/><path class="kf" d="M414 855L411.4 853.2L409.1 851.2L407 849.2L407 856.2L409.1 858.2L411.4 860.2L414 862Z"/><path class="kf" d="M423.1 850.6L414 855L414 862L423.1 857.6Z"/><path class="kf" d="M414 855L411.4 853.2L409.1 851.2L407 849.2L417.5 845.9L419.2 847.6L421.1 849.1L423.1 850.6Z"/><path class="g" d="M420.1 852.1L414 847M417 853.6L410.5 848.1"/><path class="kf" d="M407.3 848.1L398.2 850.7L398.2 862.2L407.3 859.6Z"/><path class="kf" d="M407.3 848.1L409.8 850.6L412.7 853L416 855.3L416 866.8L412.7 864.5L409.8 862.1L407.3 859.6Z"/><path class="kf" d="M408.4 859.2L404.6 856.5L401.2 853.7L398.2 850.7L398.2 862.2L401.2 865.2L404.6 868L408.4 870.7Z"/><path class="kf" d="M416 855.3L408.4 859.2L408.4 870.7L416 866.8Z"/><path class="kf" d="M408.4 859.2L404.6 856.5L401.2 853.7L398.2 850.7L407.3 848.1L409.8 850.6L412.7 853L416 855.3Z"/><path class="g" d="M406.7 860.3L404.1 858.4L401.6 856.3L399.4 854.2L399.4 861L401.6 863.1L404.1 865.2L406.7 867.1Z" style="stroke:#333"/>
<path class="kf" d="M491.1 854.3L493.6 853.1L496 851.8L498.2 850.4L498.2 857.4L496 858.8L493.6 860.1L491.1 861.3Z"/><path class="kf" d="M498.2 850.4L507.4 854.7L507.4 861.7L498.2 857.4Z"/><path class="kf" d="M491.1 854.3L498.6 859.7L498.6 866.7L491.1 861.3Z"/><path class="kf" d="M507.4 854.7L504.7 856.5L501.8 858.2L498.6 859.7L498.6 866.7L501.8 865.2L504.7 863.5L507.4 861.7Z"/><path class="kf" d="M507.4 854.7L504.7 856.5L501.8 858.2L498.6 859.7L491.1 854.3L493.6 853.1L496 851.8L498.2 850.4Z"/><path class="g" d="M501.3 851.8L493.6 856.1M504.4 853.3L496.1 857.9"/><path class="kf" d="M507.6 853.6L515.6 857.2L515.6 868.7L507.6 865.1Z"/><path class="kf" d="M496.6 859.7L500.5 857.9L504.2 855.8L507.6 853.6L507.6 865.1L504.2 867.3L500.5 869.4L496.6 871.2Z"/><path class="kf" d="M515.6 857.2L511.7 859.8L507.4 862.2L502.7 864.4L502.7 875.9L507.4 873.7L511.7 871.3L515.6 868.7Z"/><path class="kf" d="M496.6 859.7L502.7 864.4L502.7 875.9L496.6 871.2Z"/><path class="kf" d="M515.6 857.2L511.7 859.8L507.4 862.2L502.7 864.4L496.6 859.7L500.5 857.9L504.2 855.8L507.6 853.6Z"/><path class="g" d="M514 860.5L511.1 862.3L508 864.1L504.7 865.7L504.7 872.5L508 870.9L511.1 869.1L514 867.3Z" style="stroke:#333"/>
<path class="kf" d="M428.2 853.5L430.7 854.7L433.4 855.8L436.2 856.8L436.2 863.8L433.4 862.8L430.7 861.7L428.2 860.5Z"/><path class="kf" d="M428.2 853.5L420.2 858.7L420.2 865.7L428.2 860.5Z"/><path class="kf" d="M436.2 856.8L430.3 862.8L430.3 869.8L436.2 863.8Z"/><path class="kf" d="M430.3 862.8L426.8 861.5L423.4 860.2L420.2 858.7L420.2 865.7L423.4 867.2L426.8 868.5L430.3 869.8Z"/><path class="kf" d="M430.3 862.8L426.8 861.5L423.4 860.2L420.2 858.7L428.2 853.5L430.7 854.7L433.4 855.8L436.2 856.8Z"/><path class="g" d="M434.2 858.8L425.5 855.2M432.3 860.8L422.9 857"/><path class="kf" d="M419.8 857.5L412.8 861.8L412.8 873.3L419.8 869Z"/><path class="kf" d="M419.8 857.5L423.7 859.4L427.9 861.1L432.3 862.6L432.3 874.1L427.9 872.6L423.7 870.9L419.8 869Z"/><path class="kf" d="M427.5 867.8L422.3 866L417.4 864L412.8 861.8L412.8 873.3L417.4 875.5L422.3 877.5L427.5 879.3Z"/><path class="kf" d="M432.3 862.6L427.5 867.8L427.5 879.3L432.3 874.1Z"/><path class="kf" d="M427.5 867.8L422.3 866L417.4 864L412.8 861.8L419.8 857.5L423.7 859.4L427.9 861.1L432.3 862.6Z"/><path class="g" d="M425.3 869.2L421.7 868L418.1 866.5L414.8 865L414.8 871.8L418.1 873.3L421.7 874.8L425.3 876Z" style="stroke:#333"/>
<path class="kf" d="M476.2 859L479.3 858.3L482.3 857.6L485.2 856.7L485.2 863.7L482.3 864.6L479.3 865.3L476.2 866Z"/><path class="kf" d="M485.2 856.7L491.3 862.6L491.3 869.6L485.2 863.7Z"/><path class="kf" d="M476.2 859L480.1 865.5L480.1 872.5L476.2 866Z"/><path class="kf" d="M491.3 862.6L487.7 863.7L483.9 864.7L480.1 865.5L480.1 872.5L483.9 871.7L487.7 870.7L491.3 869.6Z"/><path class="kf" d="M491.3 862.6L487.7 863.7L483.9 864.7L480.1 865.5L476.2 859L479.3 858.3L482.3 857.6L485.2 856.7Z"/><path class="g" d="M487.2 858.6L477.5 861.2M489.3 860.6L478.8 863.3"/><path class="kf" d="M478.1 865.1L482.9 864.2L487.6 862.9L492.1 861.5L492.1 873L487.6 874.4L482.9 875.7L478.1 876.6Z"/><path class="kf" d="M492.1 861.5L497.5 866.4L497.5 877.9L492.1 873Z"/><path class="kf" d="M478.1 865.1L481.1 870.7L481.1 882.2L478.1 876.6Z"/><path class="kf" d="M497.5 866.4L492.2 868.1L486.8 869.6L481.1 870.7L481.1 882.2L486.8 881.1L492.2 879.6L497.5 877.9Z"/><path class="kf" d="M497.5 866.4L492.2 868.1L486.8 869.6L481.1 870.7L478.1 865.1L482.9 864.2L487.6 862.9L492.1 861.5Z"/><path class="g" d="M495.3 869.4L491.5 870.5L487.5 871.6L483.5 872.4L483.5 879.2L487.5 878.4L491.5 877.3L495.3 876.2Z" style="stroke:#333"/>
<path class="kf" d="M442.7 858.6L445.8 859.2L449 859.7L452.2 860.1L452.2 867.1L449 866.7L445.8 866.2L442.7 865.6Z"/><path class="kf" d="M442.7 858.6L438.3 865L438.3 872L442.7 865.6Z"/><path class="kf" d="M452.2 860.1L450.2 866.8L450.2 873.8L452.2 867.1Z"/><path class="kf" d="M450.2 866.8L446.2 866.4L442.2 865.7L438.3 865L438.3 872L442.2 872.7L446.2 873.4L450.2 873.8Z"/><path class="kf" d="M450.2 866.8L446.2 866.4L442.2 865.7L438.3 865L442.7 858.6L445.8 859.2L449 859.7L452.2 860.1Z"/><path class="g" d="M451.6 862.3L441.2 860.7M450.9 864.6L439.8 862.8"/><path class="kf" d="M437.2 864L442.1 865L447 865.8L452.1 866.3L452.1 877.8L447 877.3L442.1 876.5L437.2 875.5Z"/><path class="kf" d="M437.2 864L433.3 869.3L433.3 880.8L437.2 875.5Z"/><path class="kf" d="M452.1 866.3L450.6 872.1L450.6 883.6L452.1 877.8Z"/><path class="kf" d="M450.6 872.1L444.7 871.4L438.9 870.5L433.3 869.3L433.3 880.8L438.9 882L444.7 882.9L450.6 883.6Z"/><path class="kf" d="M450.6 872.1L444.7 871.4L438.9 870.5L433.3 869.3L437.2 864L442.1 865L447 865.8L452.1 866.3Z"/><path class="g" d="M448.1 874L443.9 873.5L439.7 872.9L435.6 872.1L435.6 878.9L439.7 879.7L443.9 880.3L448.1 880.8Z" style="stroke:#333"/>
<path class="kf" d="M459.4 860.5L462.7 860.5L466 860.3L469.3 860L469.3 867L466 867.3L462.7 867.5L459.4 867.5Z"/><path class="kf" d="M469.3 860L471.4 866.8L471.4 873.8L469.3 867Z"/><path class="kf" d="M459.4 860.5L459.1 867.3L459.1 874.3L459.4 867.5Z"/><path class="kf" d="M471.4 866.8L467.3 867.1L463.2 867.3L459.1 867.3L459.1 874.3L463.2 874.3L467.3 874.1L471.4 873.8Z"/><path class="kf" d="M471.4 866.8L467.3 867.1L463.2 867.3L459.1 867.3L459.4 860.5L462.7 860.5L466 860.3L469.3 860Z"/><path class="g" d="M470 862.3L459.3 862.8M470.7 864.5L459.2 865"/><path class="kf" d="M457.5 866.6L462.6 866.6L467.8 866.4L472.8 865.9L472.8 877.4L467.8 877.9L462.6 878.1L457.5 878.1Z"/><path class="kf" d="M472.8 865.9L474.9 871.6L474.9 883.1L472.8 877.4Z"/><path class="kf" d="M457.5 866.6L457 872.4L457 883.9L457.5 878.1Z"/><path class="kf" d="M474.9 871.6L469 872.2L463 872.4L457 872.4L457 883.9L463 883.9L469 883.7L474.9 883.1Z"/><path class="kf" d="M474.9 871.6L469 872.2L463 872.4L457 872.4L457.5 866.6L462.6 866.6L467.8 866.4L472.8 865.9Z"/><path class="g" d="M472.4 874.1L468.2 874.4L463.8 874.6L459.5 874.7L459.5 881.5L463.8 881.4L468.2 881.2L472.4 880.9Z" style="stroke:#333"/>
<ellipse class="kf" cx="460" cy="833.5" rx="47.5" ry="26.3"/>
<defs><clipPath id="c2h"><ellipse cx="460" cy="833" rx="35.5" ry="18.5"/></clipPath></defs>
<ellipse class="kf" cx="460" cy="833" rx="35.5" ry="18.5"/>
<g clip-path="url(#c2h)"><ellipse class="k" cx="460" cy="840.5" rx="35.5" ry="18.5"/></g>
<ellipse class="k" cx="473.5" cy="811.2" rx="2.6" ry="1.6"/>
<ellipse class="k" cx="420.9" cy="825.6" rx="2.6" ry="1.6"/>
<ellipse class="k" cx="497.9" cy="841.8" rx="2.6" ry="1.6"/>
<ellipse class="k" cx="445.9" cy="856.2" rx="2.6" ry="1.6"/>
<ellipse class="kf" cx="493.5" cy="815.3" rx="3.2" ry="2.6" style="stroke-width:1.3"/>
<path class="kf" d="M523.3 797 L545.6 784 L548 788.8 L525.6 802.2 Q522.5 801 523.3 797Z"/>
<ellipse class="k" cx="524.4" cy="799.7" rx="1.6" ry="2.8" transform="rotate(28 524.4 799.7)"/>
<path class="t" d="M546 785 C556 781 562 767 578.6 761.2" style="stroke-width:1.9"/>
<path class="t" d="M547.4 788.2 C560 786 566 777 577 773.2" style="stroke-width:1.9"/>
<path class="kf" d="M578.3 760 L583.5 757.3 L585 759.3 L580 762.6Z"/>
<path class="kf" d="M576.5 772 L581.8 769.8 L583 772 L578 775Z"/>
</g>
<g id="p12">
<path class="kf" d="M628 854.5 L631.7 854.5 L638.5 858.7 L638 860.4 L635.3 861.5 L629.5 857.9Z"/>
<path class="g" d="M631.7 854.5 L631.4 856 L637.6 859.9"/>
<path class="kf" d="M590 857.7 Q590.3 856.6 591.5 856 L611.1 845 L628.5 855.6 L628.7 858.7 L608.8 871.3 Q607.3 872.2 605.8 871.4 L590.5 863 Q589.6 862.4 589.7 861.2Z"/>
<path class="k" d="M590.3 857.5 L606 866.8 Q607.4 867.6 608.8 866.8 L628.5 855.6"/>
<path class="k" d="M607.4 867.6 L607.3 872"/>
<path class="g" d="M592.6 858.7 L605.3 866.1"/>
<path class="g" d="M609.3 868.3 L614.3 865.2 L614.3 867.3 L609.3 870.4Z M616 864.1 L621 861 L621 863.1 L616 866.2Z M622.4 860.2 L627 857.4 L627 859.4 L622.4 862.2Z" style="stroke:#222;stroke-width:0.65"/>
</g>
<g id="p10">
<path class="kf" d="M126 779.5 L149.5 765.3 Q153.5 764.3 155.8 768.2 Q157.8 773 155.5 777.2 L137 789.8Z"/>
<ellipse class="kf" cx="132.1" cy="784.2" rx="7" ry="6.6"/>
<ellipse class="k" cx="132.3" cy="784.4" rx="4.6" ry="4.3"/>
<path class="kf" d="M107.3 761.2 L129.5 773.8 L126 781.5 L125.3 783 L103.6 769Z"/>
<path class="g" d="M108.5 762 Q105.6 765 104.8 769.6 M117.3 767 Q114.8 770.5 114.2 775.5"/>
<path class="k" d="M106 764 L107.5 761.3"/>
<path class="kf" d="M78.3 745.6 L107.3 761.2 L103.6 769 L74.2 752.2 Q73.8 748.5 76.5 746.5 Q78 745 78.3 745.6Z"/>
<path class="k" d="M78.3 745.6 Q79.8 746.6 78.6 748.5 L76.8 750.5"/>
<line class="g" x1="62.7" y1="740.8" x2="76.8" y2="748.6"/>
<path d="M111 615.2 L28.2 660.2 Q5 673 3.8 691 Q3 710 15.4 717.8 L57.6 742.1 Q60.5 742.3 61.5 739.5 Q63.5 738 62.7 735.7 L28.2 715.2 Q15 707 14.4 692 Q15 680.5 33.3 671.7 L114.5 626.5Z" fill="#fff" stroke="none"/>
<g transform="translate(72 588) scale(0.13554)"><path class="t" d="M185 345 Q215 390 295 402" vector-effect="non-scaling-stroke"/><path class="k" d="M200 338 Q225 372 290 388" vector-effect="non-scaling-stroke"/><path class="kf" d="M535 215 L572 205 L640 245 L640 287 L420 415 Q400 425 380 418 L340 405 L215 330 L215 300 Z" vector-effect="non-scaling-stroke"/><path class="k" d="M640 245 L418 373 Q400 382 382 376 L345 360 L235 300" vector-effect="non-scaling-stroke"/><path class="g" d="M400 380 L400 422" vector-effect="non-scaling-stroke"/><ellipse class="k" cx="470" cy="297" rx="21" ry="12" transform="rotate(-22 470 297)" vector-effect="non-scaling-stroke"/><path class="kf" d="M35 187 L255 35 Q268 26 282 36 L292 46 L330 40 L535 170 L535 215 L375 303 Q360 310 345 303 L215 330 L35 225 Z" vector-effect="non-scaling-stroke"/><path class="k" d="M35 187 Q38 196 50 201 L175 272" vector-effect="non-scaling-stroke"/><path class="k" d="M535 170 L378 255 Q360 262 345 255 L315 240" vector-effect="non-scaling-stroke"/><path class="g" d="M360 260 L360 308" vector-effect="non-scaling-stroke" style="stroke:#333"/><path class="k" d="M35 225 L160 290" vector-effect="non-scaling-stroke"/><path class="k" d="M150 110 L305 48 L330 40" vector-effect="non-scaling-stroke"/><path class="k" d="M150 185 L150 125 Q155 108 170 110 Q186 115 185 130 L200 134" vector-effect="non-scaling-stroke"/><path class="g" d="M185 130 L185 160" vector-effect="non-scaling-stroke" style="stroke:#333"/><path class="k" d="M150 185 Q200 148 285 192" vector-effect="non-scaling-stroke"/><path class="k" d="M205 152 Q228 100 300 85 Q335 80 360 92 L430 125 Q468 150 462 195 L335 248" vector-effect="non-scaling-stroke"/><path class="k" d="M300 190 L425 124" vector-effect="non-scaling-stroke"/><path class="g" d="M300 85 Q262 110 262 160" vector-effect="non-scaling-stroke" style="stroke:#333"/><path class="g" d="M130 250 L150 240 M135 268 L185 240" vector-effect="non-scaling-stroke" style="stroke:#333"/><path class="k" d="M330 262 L345 303" vector-effect="non-scaling-stroke"/><path class="kf" d="M270 200 Q285 190 300 196 Q328 215 330 262 Q322 275 310 272" vector-effect="non-scaling-stroke"/><path class="t" d="M283 194 Q318 208 318 268" vector-effect="non-scaling-stroke"/></g>
<path d="M111.4 615 L70 637.5 L70 649.5 L114.2 625.2 Q116.2 620.5 114 616.6Z" fill="#fff" stroke="none"/>
<path class="k" d="M111 615.2 L28.2 660.2 Q5 673 3.8 691 Q3 710 15.4 717.8 L57.6 742.1"/>
<path class="k" d="M62.7 735.7 L28.2 715.2 Q15 707 14.4 692 Q15 680.5 33.3 671.7 L114.5 626.5"/>
<path class="k" d="M57.6 742.1 Q60.8 742.6 61.3 739.6 Q63.8 738.2 62.7 735.7 M57.6 742.1 Q57 739.6 59.6 738.8 Q59.6 736.2 62.7 735.7"/>
</g>
<g id="p11">
<path d="M133.3 574 L133.3 586 Q133.6 589.6 136.3 589.8 Q139 589.6 139.3 586 L139.3 574Z" fill="#999" stroke="#111" stroke-width="1.2"/>
<path class="g" d="M135.3 575.5V586M137.4 575.5V586" style="stroke:#ddd;stroke-width:0.6"/>
<path d="M134.3 586.3 Q136.3 590.6 138.3 586.3Z" fill="#fff" stroke="none"/>
<ellipse class="kf" cx="136" cy="572.4" rx="6" ry="2.7" style="stroke-width:1.2;stroke:#111"/>
<path class="kf" d="M131.9 569 L131.9 571.6 L134 573.3 L138 573.3 L140.1 571.6 L140.1 569Z" style="stroke:#111"/>
<path class="kf" d="M131.9 569 L134 566.6 L138 566.6 L140.1 569 L138 570.8 L134 570.8Z" style="stroke:#111;stroke-width:1.1"/>
<path class="k" d="M134 570.8V573.3M138 570.8V573.3"/>
</g>
<g id="p1">
<g transform="translate(206.3 740.9) rotate(-28.8)"><path class="kf" d="M57 -6.3 L60.5 -6.8 L61.5 -2 L59 -1.6 L58.6 -4.5 L57 -4.2Z"/><path class="k" d="M42 -6.3 L57 -6.3 A2 6.3 0 0 1 57 6.3 L42 6.3 A2 6.3 0 0 1 42 -6.3Z" style="fill:#b5b5b5"/><ellipse cx="57" cy="0" rx="2" ry="6.3" fill="#b5b5b5" stroke="#222" stroke-width="0.9"/><path d="M43.2 -6.2 A2 6.3 0 0 0 43.2 6.2M44.7 -6.2 A2 6.3 0 0 0 44.7 6.2M46.2 -6.2 A2 6.3 0 0 0 46.2 6.2M47.7 -6.2 A2 6.3 0 0 0 47.7 6.2M49.2 -6.2 A2 6.3 0 0 0 49.2 6.2M50.7 -6.2 A2 6.3 0 0 0 50.7 6.2M52.2 -6.2 A2 6.3 0 0 0 52.2 6.2M53.7 -6.2 A2 6.3 0 0 0 53.7 6.2M55.2 -6.2 A2 6.3 0 0 0 55.2 6.2M56.7 -6.2 A2 6.3 0 0 0 56.7 6.2" fill="none" stroke="#555" stroke-width="0.55"/><path d="M42 -3.5H58M42 -0.5H58.5M42 2.6H58" fill="none" stroke="#bbb" stroke-width="0.5"/><path class="k" d="M39.5 -7.6 L42 -7.6 A2.4 7.6 0 0 1 42 7.6 L39.5 7.6 A2.4 7.6 0 0 1 39.5 -7.6Z" style="fill:#fff"/><ellipse cx="39.5" cy="0" rx="2.4" ry="7.6" class="kf"/><path class="k" d="M32.5 -7.6 L39 -7.6 A2.4 7.6 0 0 1 39 7.6 L32.5 7.6 A2.4 7.6 0 0 1 32.5 -7.6Z" style="fill:#fff"/><ellipse cx="32.5" cy="0" rx="2.4" ry="7.6" class="kf"/><path class="k" d="M32.8 -3 L39 -3 M33 3.5 L39 3.5"/><path class="k" d="M25.5 -5 L33 -5 A1.6 5 0 0 1 33 5 L25.5 5 A1.6 5 0 0 1 25.5 -5Z" style="fill:#fff"/><ellipse cx="25.5" cy="0" rx="1.6" ry="5" class="kf"/><path class="k" d="M9.5 -4.3 L26 -4.3 A1.4 4.3 0 0 1 26 4.3 L9.5 4.3 A1.4 4.3 0 0 1 9.5 -4.3Z" style="fill:#999"/><path d="M10.8 -4.2 A1.4 4.3 0 0 0 10.8 4.2M12.4 -4.2 A1.4 4.3 0 0 0 12.4 4.2M14 -4.2 A1.4 4.3 0 0 0 14 4.2M15.6 -4.2 A1.4 4.3 0 0 0 15.6 4.2M17.2 -4.2 A1.4 4.3 0 0 0 17.2 4.2M18.8 -4.2 A1.4 4.3 0 0 0 18.8 4.2M20.4 -4.2 A1.4 4.3 0 0 0 20.4 4.2M22 -4.2 A1.4 4.3 0 0 0 22 4.2M23.6 -4.2 A1.4 4.3 0 0 0 23.6 4.2M25.2 -4.2 A1.4 4.3 0 0 0 25.2 4.2" fill="none" stroke="#3a3a3a" stroke-width="0.7"/><path d="M10 -2.2H26M10 0.8H26" fill="none" stroke="#b5b5b5" stroke-width="0.5"/><ellipse cx="9.5" cy="0" rx="1.4" ry="4.3" class="kf"/><path class="k" d="M5.5 -3.2 L9.5 -3.2 A1 3.2 0 0 1 9.5 3.2 L5.5 3.2 A1 3.2 0 0 1 5.5 -3.2Z" style="fill:#fff"/><ellipse cx="5.5" cy="0" rx="1.1" ry="3.2" class="kf"/><path class="k" d="M0.5 -2.5 L5.5 -2.5 A0.8 2.5 0 0 1 5.5 2.5 L0.5 2.5 A0.8 2.5 0 0 1 0.5 -2.5Z" style="fill:#fff"/><ellipse cx="3" cy="0" rx="0.9" ry="2.6" class="k"/><ellipse cx="0.5" cy="0" rx="1.3" ry="2.6" class="kf"/><ellipse cx="0.3" cy="0" rx="0.7" ry="1.5" class="g"/></g>
</g>
<g class="ld">
<line x1="556.4" y1="43.3" x2="595.6" y2="33.2"/>
<line x1="466" y1="177.4" x2="517.6" y2="171.5"/>
<line x1="490.2" y1="254.4" x2="517.4" y2="250.2"/>
<line x1="578" y1="359.2" x2="616.7" y2="348.9"/>
<line x1="574.4" y1="567.6" x2="611.7" y2="555.1"/>
<line x1="449.3" y1="718.4" x2="487.5" y2="727.6"/>
<line x1="386.6" y1="764" x2="414" y2="767.8"/>
<line x1="337.1" y1="824.3" x2="385.3" y2="827.9"/>
<line x1="633.2" y1="812.9" x2="617.6" y2="844.3"/>
<line x1="142.7" y1="577.4" x2="167.5" y2="574.8"/>
<line x1="147" y1="637" x2="179" y2="649.8"/>
<line x1="246.6" y1="729.7" x2="280.8" y2="746.8"/>
</g>

</svg>
<div class="labels"><span style="left:599px;top:17.84px">9</span><span style="left:521.5px;top:155.24px">4</span><span style="left:521px;top:234.94px">7</span><span style="left:619.5px;top:331.94px">8</span><span style="left:615.5px;top:537.84px">5</span><span style="left:489.5px;top:718.94px">6</span><span style="left:371px;top:750.94px">3</span><span style="left:321.8px;top:810.74px">2</span><span style="left:625.5px;top:788.44px">12</span><span style="left:168.5px;top:560.24px">11</span><span style="left:181px;top:643.14px">10</span><span style="left:283.5px;top:738.04px">1</span></div>
</body></html>
